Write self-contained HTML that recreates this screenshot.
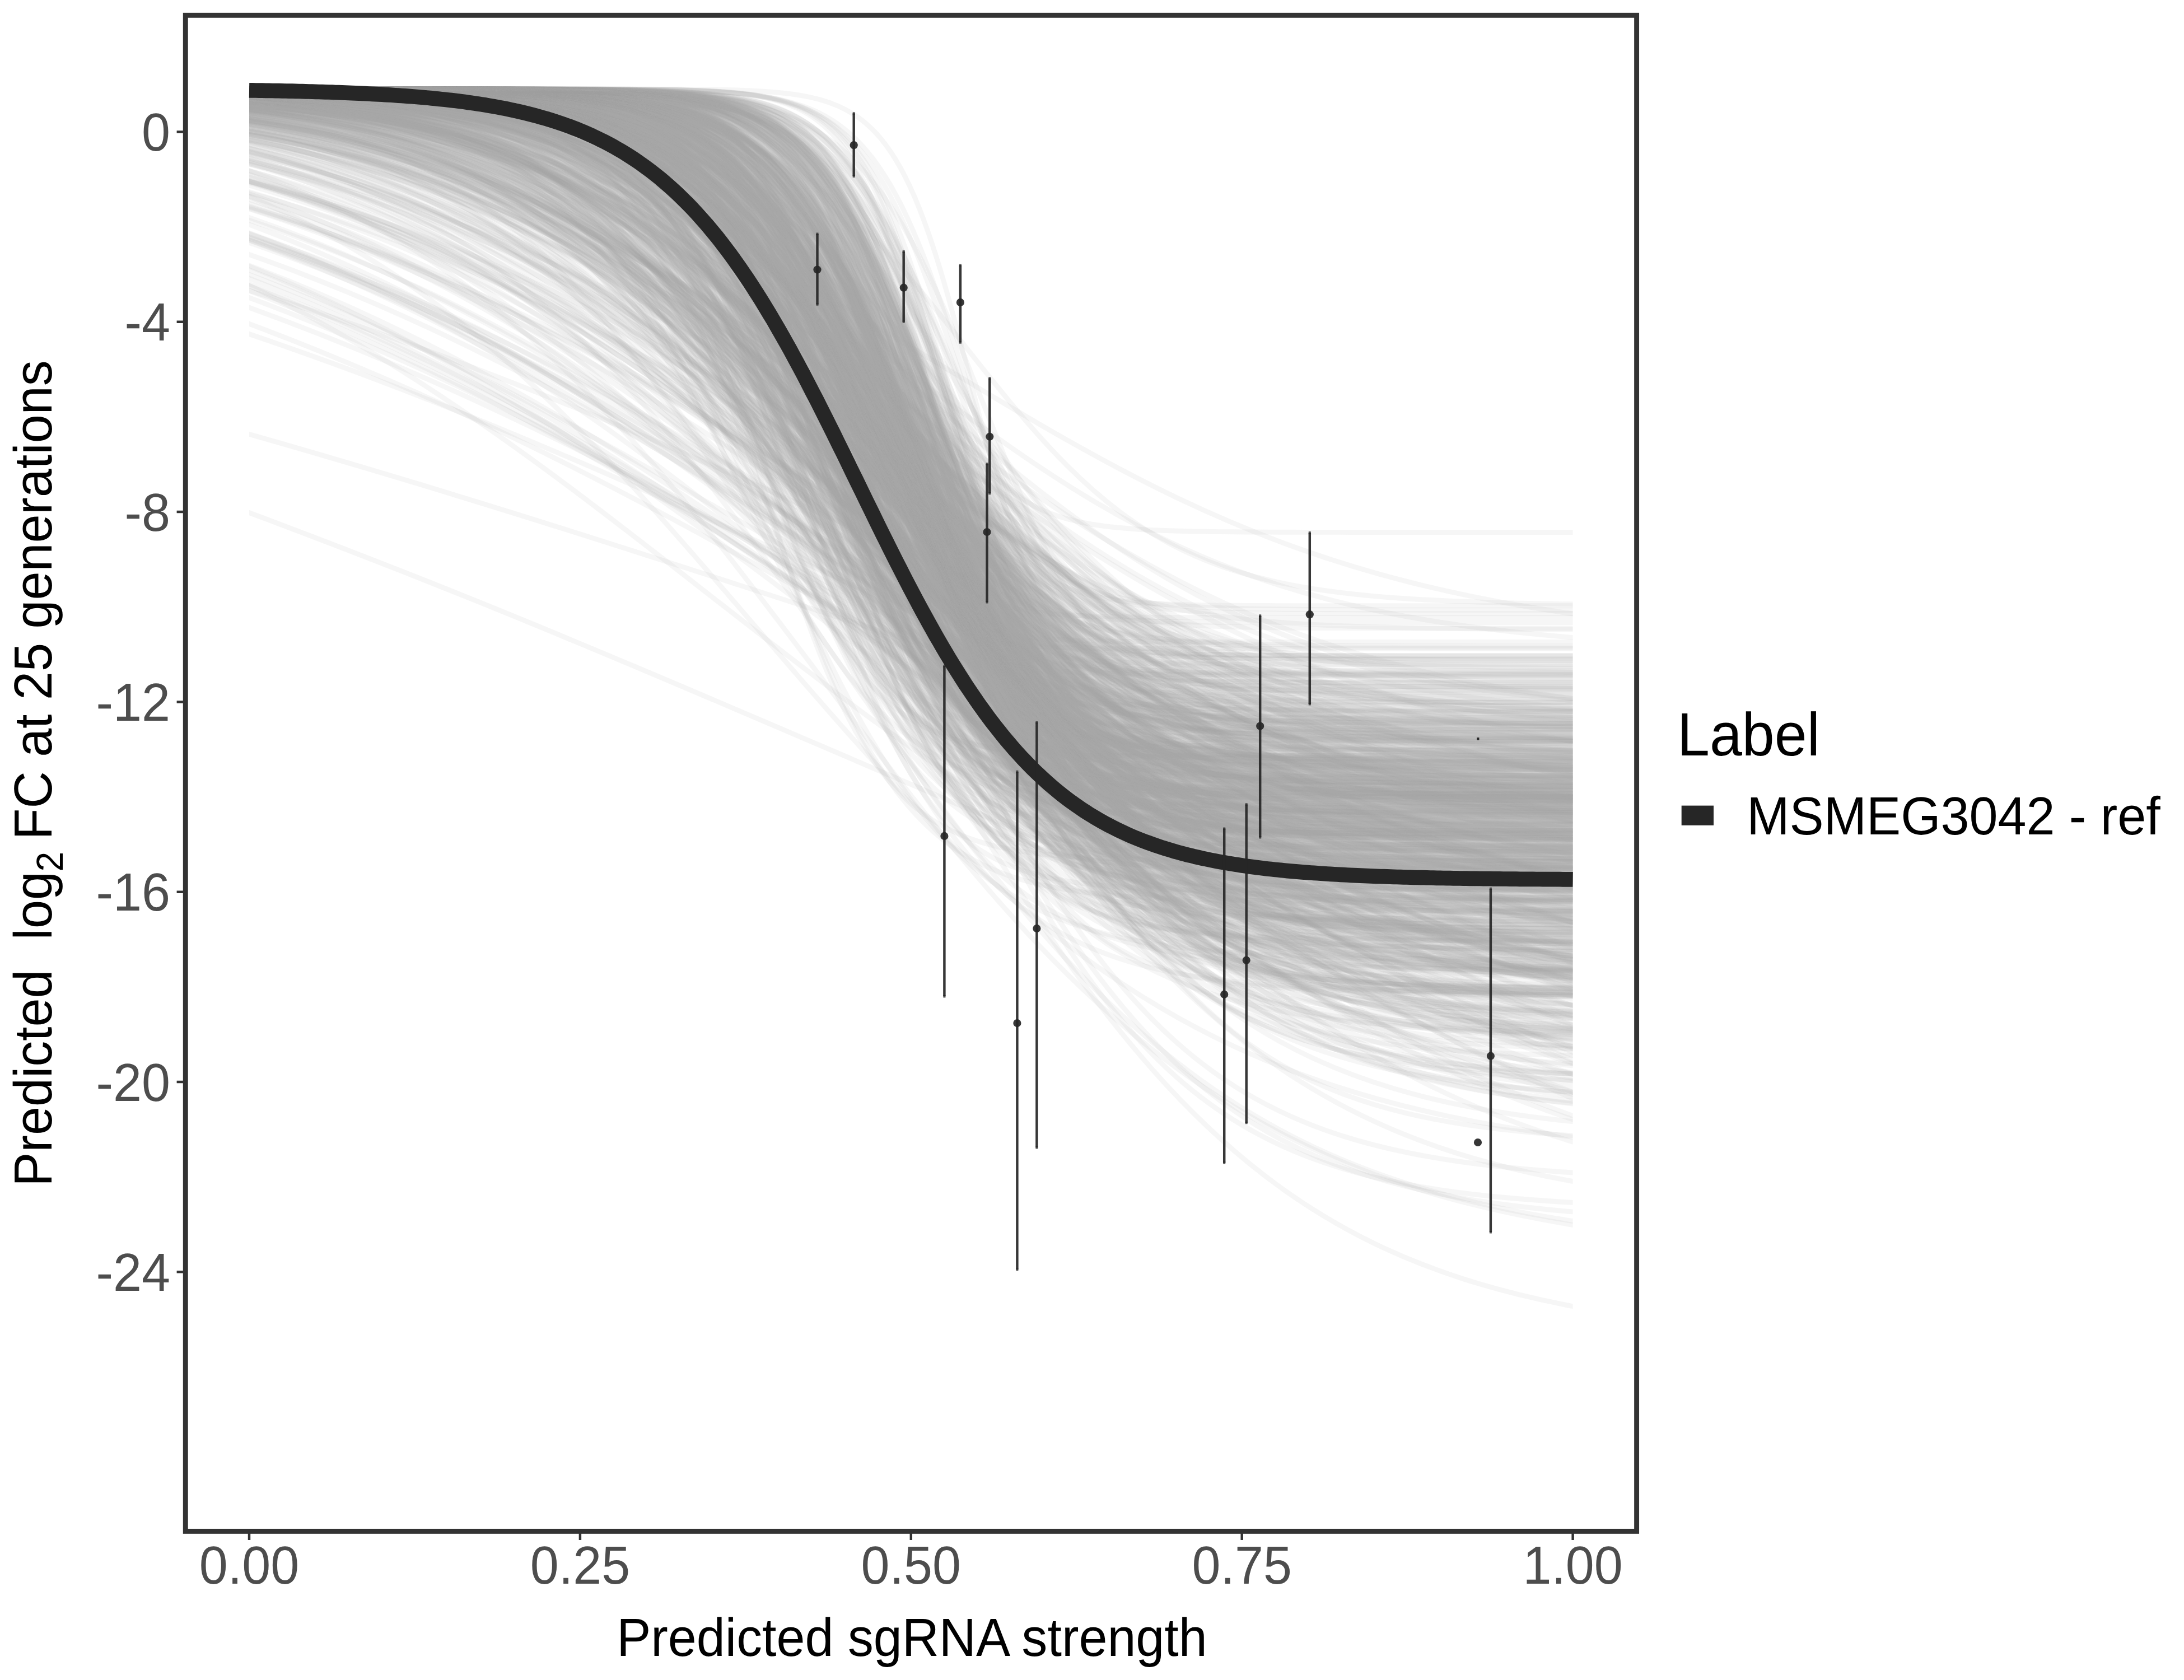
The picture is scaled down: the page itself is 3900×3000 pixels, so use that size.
<!DOCTYPE html>
<html><head><meta charset="utf-8"><title>plot</title>
<style>
html,body{margin:0;padding:0;background:#fff;}
body{width:3900px;height:3000px;overflow:hidden;}
svg{display:block;position:absolute;left:0;top:0;}
text{font-family:"Liberation Sans",sans-serif;text-rendering:geometricPrecision;}
</style></head><body>
<svg width="3900" height="3000" viewBox="0 0 3900 3000">
<defs>
<path id="s" d="M-7000 0.00C-5200.0 0.00 -3400.0 -0.02 -1600 0.00C-1583.3 0.00 -1566.7 0.00 -1550 0.00C-1533.3 0.00 -1516.7 0.00 -1500 0.00C-1483.3 0.00 -1466.7 0.00 -1450 0.01C-1433.3 0.01 -1416.7 0.01 -1400 0.01C-1383.3 0.01 -1366.7 0.01 -1350 0.01C-1333.3 0.02 -1316.7 0.02 -1300 0.02C-1283.3 0.03 -1266.7 0.03 -1250 0.04C-1233.3 0.04 -1216.7 0.05 -1200 0.06C-1183.3 0.07 -1166.7 0.08 -1150 0.10C-1133.3 0.12 -1116.7 0.14 -1100 0.17C-1083.3 0.19 -1066.7 0.23 -1050 0.28C-1033.3 0.32 -1016.7 0.38 -1000 0.45C-983.3 0.53 -966.7 0.62 -950 0.75C-933.3 0.87 -916.7 1.03 -900 1.23C-883.3 1.44 -866.7 1.70 -850 2.03C-833.3 2.37 -816.7 2.79 -800 3.35C-783.3 3.91 -766.7 4.61 -750 5.53C-733.3 6.45 -716.7 7.59 -700 9.11C-683.3 10.63 -666.7 12.51 -650 15.01C-633.3 17.51 -616.7 20.62 -600 24.73C-583.3 28.84 -566.7 33.95 -550 40.70C-533.3 47.46 -516.7 55.85 -500 66.93C-483.3 78.01 -466.7 91.76 -450 109.87C-433.3 127.98 -416.7 150.42 -400 179.86C-383.3 209.30 -366.7 245.70 -350 293.12C-333.3 340.54 -316.7 398.96 -300 474.26C-283.3 549.55 -266.7 641.74 -250 758.58C-233.3 875.42 -216.7 1017.04 -200 1192.03C-183.3 1367.02 -166.7 1575.68 -150 1824.26C-133.3 2072.83 -116.7 2361.73 -100 2689.41C-83.3 3017.10 -66.7 3383.73 -50 3775.41C-33.3 4167.08 -16.7 4583.33 0 5000.00C16.7 5416.67 33.3 5832.92 50 6224.59C66.7 6616.27 83.3 6982.90 100 7310.59C116.7 7638.27 133.3 7927.17 150 8175.74C166.7 8424.32 183.3 8632.98 200 8807.97C216.7 8982.96 233.3 9124.58 250 9241.42C266.7 9358.26 283.3 9450.45 300 9525.74C316.7 9601.04 333.3 9659.46 350 9706.88C366.7 9754.30 383.3 9790.70 400 9820.14C416.7 9849.58 433.3 9872.02 450 9890.13C466.7 9908.24 483.3 9921.99 500 9933.07C516.7 9944.15 533.3 9952.54 550 9959.30C566.7 9966.05 583.3 9971.16 600 9975.27C616.7 9979.38 633.3 9982.49 650 9984.99C666.7 9987.49 683.3 9989.37 700 9990.89C716.7 9992.41 733.3 9993.55 750 9994.47C766.7 9995.39 783.3 9996.09 800 9996.65C816.7 9997.21 833.3 9997.63 850 9997.97C866.7 9998.30 883.3 9998.56 900 9998.77C916.7 9998.97 933.3 9999.13 950 9999.25C966.7 9999.38 983.3 9999.47 1000 9999.55C1016.7 9999.62 1033.3 9999.68 1050 9999.72C1066.7 9999.77 1083.3 9999.81 1100 9999.83C1116.7 9999.86 1133.3 9999.88 1150 9999.90C1166.7 9999.92 1183.3 9999.93 1200 9999.94C1216.7 9999.95 1233.3 9999.96 1250 9999.96C1266.7 9999.97 1283.3 9999.97 1300 9999.98C1316.7 9999.98 1333.3 9999.98 1350 9999.99C1366.7 9999.99 1383.3 9999.99 1400 9999.99C1416.7 9999.99 1433.3 9999.99 1450 9999.99C1466.7 10000.00 1483.3 10000.00 1500 10000.00C1516.7 10000.00 1533.3 10000.00 1550 10000.00C1566.7 10000.00 1583.3 10000.00 1600 10000.00C3400.0 10000.02 5200.0 10000.00 7000 10000.00" vector-effect="non-scaling-stroke"/>
<clipPath id="cx"><rect x="445.0" y="0" width="2363.6" height="3000"/></clipPath>
</defs>
<rect width="3900" height="3000" fill="#fff"/>
<g clip-path="url(#cx)" fill="none" stroke="#A9A9A9" stroke-opacity="0.1" stroke-width="8.9" stroke-linejoin="round">
<use href="#s" transform="matrix(2.1916 0 0 .13558 1599.4 158.8)"/>
<use href="#s" transform="matrix(3.2908 0 0 .16285 1631.5 158.8)"/>
<use href="#s" transform="matrix(.9444 0 0 .10121 1580.1 158.8)"/>
<use href="#s" transform="matrix(1.1088 0 0 .1297 1611.8 158.8)"/>
<use href="#s" transform="matrix(1.4808 0 0 .1183 1653.6 158.8)"/>
<use href="#s" transform="matrix(2.1542 0 0 .11124 1661.6 158.8)"/>
<use href="#s" transform="matrix(2.297 0 0 .12916 1528.8 158.8)"/>
<use href="#s" transform="matrix(.861 0 0 .11903 1632.5 158.8)"/>
<use href="#s" transform="matrix(1.8241 0 0 .13219 1569.8 158.8)"/>
<use href="#s" transform="matrix(5.4432 0 0 .19132 1601 158.8)"/>
<use href="#s" transform="matrix(1.8841 0 0 .13663 1658.3 158.8)"/>
<use href="#s" transform="matrix(1.591 0 0 .14199 1642.3 158.8)"/>
<use href="#s" transform="matrix(1.7178 0 0 .14736 1617.7 158.8)"/>
<use href="#s" transform="matrix(.8339 0 0 .11796 1605 158.8)"/>
<use href="#s" transform="matrix(2.0273 0 0 .14678 1492.9 158.8)"/>
<use href="#s" transform="matrix(4.2393 0 0 .14687 1501.5 158.8)"/>
<use href="#s" transform="matrix(1.09 0 0 .13218 1568.2 158.8)"/>
<use href="#s" transform="matrix(2.4159 0 0 .17198 1576.4 158.8)"/>
<use href="#s" transform="matrix(1.0684 0 0 .11328 1667.1 158.8)"/>
<use href="#s" transform="matrix(2.5743 0 0 .14263 1670.2 158.8)"/>
<use href="#s" transform="matrix(2.4936 0 0 .12469 1709.5 158.8)"/>
<use href="#s" transform="matrix(1.2852 0 0 .1451 1362.9 158.8)"/>
<use href="#s" transform="matrix(2.9295 0 0 .11517 1445.9 158.8)"/>
<use href="#s" transform="matrix(2.4698 0 0 .14222 1420.9 158.8)"/>
<use href="#s" transform="matrix(3.1133 0 0 .13583 1531.2 158.8)"/>
<use href="#s" transform="matrix(.9308 0 0 .11984 1630.5 158.8)"/>
<use href="#s" transform="matrix(1.2691 0 0 .12603 1631.4 158.8)"/>
<use href="#s" transform="matrix(3.4928 0 0 .16337 1605.8 158.8)"/>
<use href="#s" transform="matrix(1.2567 0 0 .13096 1549.8 158.8)"/>
<use href="#s" transform="matrix(1.1826 0 0 .14435 1562.2 158.8)"/>
<use href="#s" transform="matrix(3.21 0 0 .14611 1399.2 158.8)"/>
<use href="#s" transform="matrix(3.7819 0 0 .16243 1654.7 158.8)"/>
<use href="#s" transform="matrix(1.3589 0 0 .13208 1551.8 158.8)"/>
<use href="#s" transform="matrix(1.4103 0 0 .13249 1424 158.8)"/>
<use href="#s" transform="matrix(2.7381 0 0 .12704 1462.3 158.8)"/>
<use href="#s" transform="matrix(2.6407 0 0 .14625 1497.2 158.8)"/>
<use href="#s" transform="matrix(1.9436 0 0 .15129 1512.4 158.8)"/>
<use href="#s" transform="matrix(1.3791 0 0 .13985 1375.2 158.8)"/>
<use href="#s" transform="matrix(3.6705 0 0 .13297 1587.1 158.8)"/>
<use href="#s" transform="matrix(1.3141 0 0 .13359 1676.4 158.8)"/>
<use href="#s" transform="matrix(1.1863 0 0 .12384 1629.9 158.8)"/>
<use href="#s" transform="matrix(1.078 0 0 .13931 1473.8 158.8)"/>
<use href="#s" transform="matrix(5.9778 0 0 .14879 1513.8 158.8)"/>
<use href="#s" transform="matrix(2.3539 0 0 .15098 1488.7 158.8)"/>
<use href="#s" transform="matrix(2.0296 0 0 .13796 1636.9 158.8)"/>
<use href="#s" transform="matrix(1.2937 0 0 .14495 1678.5 158.8)"/>
<use href="#s" transform="matrix(3.1873 0 0 .13604 1622.6 158.8)"/>
<use href="#s" transform="matrix(1.5514 0 0 .11159 1544.7 158.8)"/>
<use href="#s" transform="matrix(.9101 0 0 .10121 1581.1 158.8)"/>
<use href="#s" transform="matrix(.9428 0 0 .10903 1678.2 158.8)"/>
<use href="#s" transform="matrix(1.3641 0 0 .13392 1568.9 158.8)"/>
<use href="#s" transform="matrix(4.2773 0 0 .15875 1647.8 158.8)"/>
<use href="#s" transform="matrix(1.07 0 0 .13786 1356.6 158.8)"/>
<use href="#s" transform="matrix(2.1109 0 0 .12757 1503.5 158.8)"/>
<use href="#s" transform="matrix(1.043 0 0 .11388 1661.9 158.8)"/>
<use href="#s" transform="matrix(1.6346 0 0 .15398 1646.6 158.8)"/>
<use href="#s" transform="matrix(3.4189 0 0 .17729 1682.1 158.8)"/>
<use href="#s" transform="matrix(1.1428 0 0 .12193 1622 158.8)"/>
<use href="#s" transform="matrix(7.2769 0 0 .2089 1641.2 158.8)"/>
<use href="#s" transform="matrix(1.3363 0 0 .11976 1590 158.8)"/>
<use href="#s" transform="matrix(1.8274 0 0 .1237 1693.9 158.8)"/>
<use href="#s" transform="matrix(2.6019 0 0 .10382 1298.4 158.8)"/>
<use href="#s" transform="matrix(2.075 0 0 .12571 1648.1 158.8)"/>
<use href="#s" transform="matrix(2.8487 0 0 .13286 1413.8 158.8)"/>
<use href="#s" transform="matrix(1.1889 0 0 .1308 1459.9 158.8)"/>
<use href="#s" transform="matrix(2.4126 0 0 .12999 1647.3 158.8)"/>
<use href="#s" transform="matrix(7.6072 0 0 .21037 1666.8 158.8)"/>
<use href="#s" transform="matrix(1.742 0 0 .13423 1584.8 158.8)"/>
<use href="#s" transform="matrix(1.5977 0 0 .12163 1547.6 158.8)"/>
<use href="#s" transform="matrix(.9569 0 0 .13977 1634.5 158.8)"/>
<use href="#s" transform="matrix(1.1499 0 0 .14118 1649.5 158.8)"/>
<use href="#s" transform="matrix(2.943 0 0 .18457 1632.6 158.8)"/>
<use href="#s" transform="matrix(1.7001 0 0 .10591 1590.6 158.8)"/>
<use href="#s" transform="matrix(.862 0 0 .12806 1556.3 158.8)"/>
<use href="#s" transform="matrix(2.1184 0 0 .16255 1678.5 158.8)"/>
<use href="#s" transform="matrix(5.6001 0 0 .167 1438.4 158.8)"/>
<use href="#s" transform="matrix(1.6294 0 0 .14534 1447 158.8)"/>
<use href="#s" transform="matrix(3.4009 0 0 .11251 1616.7 158.8)"/>
<use href="#s" transform="matrix(1.3542 0 0 .14487 1590.7 158.8)"/>
<use href="#s" transform="matrix(1.2456 0 0 .12608 1399.9 158.8)"/>
<use href="#s" transform="matrix(2.9803 0 0 .12849 1653.7 158.8)"/>
<use href="#s" transform="matrix(2.084 0 0 .12754 1616.6 158.8)"/>
<use href="#s" transform="matrix(8.5898 0 0 .19169 1616.4 158.8)"/>
<use href="#s" transform="matrix(1.2884 0 0 .14856 1513.5 158.8)"/>
<use href="#s" transform="matrix(1.4031 0 0 .1295 1519.4 158.8)"/>
<use href="#s" transform="matrix(1.8041 0 0 .15658 1645.6 158.8)"/>
<use href="#s" transform="matrix(1.244 0 0 .13963 1615.4 158.8)"/>
<use href="#s" transform="matrix(1.5831 0 0 .11661 1530.2 158.8)"/>
<use href="#s" transform="matrix(1.6051 0 0 .10982 1686.6 158.8)"/>
<use href="#s" transform="matrix(2.5514 0 0 .14744 1427 158.8)"/>
<use href="#s" transform="matrix(1.5085 0 0 .138 1541.8 158.8)"/>
<use href="#s" transform="matrix(4.2578 0 0 .17375 1572.2 158.8)"/>
<use href="#s" transform="matrix(1.7722 0 0 .12695 1404.6 158.8)"/>
<use href="#s" transform="matrix(1.7018 0 0 .1463 1658.1 158.8)"/>
<use href="#s" transform="matrix(1.3032 0 0 .12491 1670.5 158.8)"/>
<use href="#s" transform="matrix(2.6036 0 0 .14445 1532.2 158.8)"/>
<use href="#s" transform="matrix(3.9479 0 0 .15296 1405.8 158.8)"/>
<use href="#s" transform="matrix(1.9056 0 0 .122 1663.1 158.8)"/>
<use href="#s" transform="matrix(1.2114 0 0 .12749 1623 158.8)"/>
<use href="#s" transform="matrix(1.1915 0 0 .13709 1651.6 158.8)"/>
<use href="#s" transform="matrix(1.06 0 0 .1258 1507.7 158.8)"/>
<use href="#s" transform="matrix(4.3239 0 0 .2022 1691 158.8)"/>
<use href="#s" transform="matrix(.8113 0 0 .09876 1448.8 158.8)"/>
<use href="#s" transform="matrix(1.6858 0 0 .14753 1604.2 158.8)"/>
<use href="#s" transform="matrix(1.1838 0 0 .13943 1569.5 158.8)"/>
<use href="#s" transform="matrix(1.652 0 0 .10218 1595 158.8)"/>
<use href="#s" transform="matrix(1.3262 0 0 .14291 1566.5 158.8)"/>
<use href="#s" transform="matrix(1.2332 0 0 .12524 1503.7 158.8)"/>
<use href="#s" transform="matrix(1.3512 0 0 .11858 1633.4 158.8)"/>
<use href="#s" transform="matrix(1.0355 0 0 .14541 1696.2 158.8)"/>
<use href="#s" transform="matrix(1.1426 0 0 .14256 1691 158.8)"/>
<use href="#s" transform="matrix(5.2737 0 0 .16565 1499.9 158.8)"/>
<use href="#s" transform="matrix(1.8357 0 0 .15003 1467.8 158.8)"/>
<use href="#s" transform="matrix(1.0747 0 0 .12103 1683.8 158.8)"/>
<use href="#s" transform="matrix(1.1073 0 0 .1291 1639 158.8)"/>
<use href="#s" transform="matrix(3.2683 0 0 .13217 1602.4 158.8)"/>
<use href="#s" transform="matrix(1.8227 0 0 .15449 1481.8 158.8)"/>
<use href="#s" transform="matrix(1.8707 0 0 .15298 1646.1 158.8)"/>
<use href="#s" transform="matrix(2.8599 0 0 .14313 1594.2 158.8)"/>
<use href="#s" transform="matrix(2.0776 0 0 .16946 1670.7 158.8)"/>
<use href="#s" transform="matrix(2.7562 0 0 .15226 1467 158.8)"/>
<use href="#s" transform="matrix(2.027 0 0 .15313 1731.2 158.8)"/>
<use href="#s" transform="matrix(2.557 0 0 .12525 1650 158.8)"/>
<use href="#s" transform="matrix(1.4636 0 0 .13891 1367.9 158.8)"/>
<use href="#s" transform="matrix(1.2809 0 0 .12986 1658.5 158.8)"/>
<use href="#s" transform="matrix(1.2444 0 0 .10471 1408.7 158.8)"/>
<use href="#s" transform="matrix(3.262 0 0 .14853 1528.8 158.8)"/>
<use href="#s" transform="matrix(2.046 0 0 .15587 1599.8 158.8)"/>
<use href="#s" transform="matrix(1.8545 0 0 .15273 1644.6 158.8)"/>
<use href="#s" transform="matrix(2.4299 0 0 .17096 1680.9 158.8)"/>
<use href="#s" transform="matrix(2.4564 0 0 .15693 1644.2 158.8)"/>
<use href="#s" transform="matrix(1.1671 0 0 .13124 1620.5 158.8)"/>
<use href="#s" transform="matrix(2.1173 0 0 .14175 1408.1 158.8)"/>
<use href="#s" transform="matrix(1.3061 0 0 .12445 1627.8 158.8)"/>
<use href="#s" transform="matrix(.9343 0 0 .12387 1685.2 158.8)"/>
<use href="#s" transform="matrix(2.4165 0 0 .12719 1461.1 158.8)"/>
<use href="#s" transform="matrix(1.2052 0 0 .11817 1672.7 158.8)"/>
<use href="#s" transform="matrix(1.3675 0 0 .13129 1421.8 158.8)"/>
<use href="#s" transform="matrix(4.2548 0 0 .17866 1453.1 158.8)"/>
<use href="#s" transform="matrix(6.7887 0 0 .20213 1746.2 158.8)"/>
<use href="#s" transform="matrix(2.9305 0 0 .13493 1448.2 158.8)"/>
<use href="#s" transform="matrix(5.204 0 0 .13537 1615.2 158.8)"/>
<use href="#s" transform="matrix(1.2575 0 0 .12041 1504.1 158.8)"/>
<use href="#s" transform="matrix(1.9285 0 0 .14759 1567.2 158.8)"/>
<use href="#s" transform="matrix(2.1501 0 0 .1704 1699.4 158.8)"/>
<use href="#s" transform="matrix(.9422 0 0 .12956 1615.3 158.8)"/>
<use href="#s" transform="matrix(1.1393 0 0 .11625 1332.1 158.8)"/>
<use href="#s" transform="matrix(1.4548 0 0 .13432 1600.8 158.8)"/>
<use href="#s" transform="matrix(1.4695 0 0 .13963 1631.4 158.8)"/>
<use href="#s" transform="matrix(2.175 0 0 .1363 1451.7 158.8)"/>
<use href="#s" transform="matrix(3.4693 0 0 .12053 1643.4 158.8)"/>
<use href="#s" transform="matrix(2.2937 0 0 .12715 1650.6 158.8)"/>
<use href="#s" transform="matrix(1.3949 0 0 .13053 1498.4 158.8)"/>
<use href="#s" transform="matrix(1.0568 0 0 .10671 1649.2 158.8)"/>
<use href="#s" transform="matrix(1.821 0 0 .14784 1465.7 158.8)"/>
<use href="#s" transform="matrix(2.0123 0 0 .12461 1480 158.8)"/>
<use href="#s" transform="matrix(2.0722 0 0 .15736 1665.5 158.8)"/>
<use href="#s" transform="matrix(2.8757 0 0 .16405 1501.6 158.8)"/>
<use href="#s" transform="matrix(1.363 0 0 .1184 1669.2 158.8)"/>
<use href="#s" transform="matrix(4.8844 0 0 .16847 1643 158.8)"/>
<use href="#s" transform="matrix(5.4953 0 0 .20237 1685.8 158.8)"/>
<use href="#s" transform="matrix(1.1064 0 0 .11112 1537.2 158.8)"/>
<use href="#s" transform="matrix(.7517 0 0 .10722 1693.4 158.8)"/>
<use href="#s" transform="matrix(1.385 0 0 .12886 1629.9 158.8)"/>
<use href="#s" transform="matrix(1.1458 0 0 .12316 1547.4 158.8)"/>
<use href="#s" transform="matrix(.6767 0 0 .10553 1734.5 158.8)"/>
<use href="#s" transform="matrix(1.5351 0 0 .13924 1585.9 158.8)"/>
<use href="#s" transform="matrix(2.1428 0 0 .14392 1658 158.8)"/>
<use href="#s" transform="matrix(5.7922 0 0 .15571 1508.2 158.8)"/>
<use href="#s" transform="matrix(1.974 0 0 .13628 1605.8 158.8)"/>
<use href="#s" transform="matrix(1.2098 0 0 .13685 1558.1 158.8)"/>
<use href="#s" transform="matrix(3.0888 0 0 .13698 1550.9 158.8)"/>
<use href="#s" transform="matrix(1.6104 0 0 .12082 1669.9 158.8)"/>
<use href="#s" transform="matrix(1.4631 0 0 .12225 1696 158.8)"/>
<use href="#s" transform="matrix(2.0038 0 0 .15758 1429.7 158.8)"/>
<use href="#s" transform="matrix(3.2746 0 0 .13875 1466.9 158.8)"/>
<use href="#s" transform="matrix(1.1086 0 0 .12395 1648 158.8)"/>
<use href="#s" transform="matrix(2.4669 0 0 .17824 1587.3 158.8)"/>
<use href="#s" transform="matrix(4.4112 0 0 .16963 1552.3 158.8)"/>
<use href="#s" transform="matrix(9.1937 0 0 .16597 1625 158.8)"/>
<use href="#s" transform="matrix(1.403 0 0 .13786 1563 158.8)"/>
<use href="#s" transform="matrix(1.7599 0 0 .14692 1487.9 158.8)"/>
<use href="#s" transform="matrix(1.3702 0 0 .12711 1601.2 158.8)"/>
<use href="#s" transform="matrix(7.0559 0 0 .18456 1613.9 158.8)"/>
<use href="#s" transform="matrix(2.5045 0 0 .12972 1611.5 158.8)"/>
<use href="#s" transform="matrix(1.3024 0 0 .10865 1647.5 158.8)"/>
<use href="#s" transform="matrix(1.3682 0 0 .13004 1635.2 158.8)"/>
<use href="#s" transform="matrix(1.3395 0 0 .11873 1462 158.8)"/>
<use href="#s" transform="matrix(1.1452 0 0 .1285 1633.6 158.8)"/>
<use href="#s" transform="matrix(3.1071 0 0 .13009 1614.9 158.8)"/>
<use href="#s" transform="matrix(3.1889 0 0 .12771 1583.1 158.8)"/>
<use href="#s" transform="matrix(2.2336 0 0 .15762 1471.3 158.8)"/>
<use href="#s" transform="matrix(1.1412 0 0 .1322 1599.6 158.8)"/>
<use href="#s" transform="matrix(3.1618 0 0 .12274 1628.2 158.8)"/>
<use href="#s" transform="matrix(3.37 0 0 .12112 1493.6 158.8)"/>
<use href="#s" transform="matrix(1.0108 0 0 .13125 1578.7 158.8)"/>
<use href="#s" transform="matrix(4.2597 0 0 .17865 1650.2 158.8)"/>
<use href="#s" transform="matrix(1.684 0 0 .14298 1635.9 158.8)"/>
<use href="#s" transform="matrix(1.2766 0 0 .14304 1628 158.8)"/>
<use href="#s" transform="matrix(3.1904 0 0 .13787 1517.7 158.8)"/>
<use href="#s" transform="matrix(1.4741 0 0 .13331 1540.4 158.8)"/>
<use href="#s" transform="matrix(1.2507 0 0 .12768 1630.4 158.8)"/>
<use href="#s" transform="matrix(1.914 0 0 .1419 1613.9 158.8)"/>
<use href="#s" transform="matrix(1.7293 0 0 .12652 1282.8 158.8)"/>
<use href="#s" transform="matrix(2.4976 0 0 .13632 1512.8 158.8)"/>
<use href="#s" transform="matrix(2.3104 0 0 .14342 1638.6 158.8)"/>
<use href="#s" transform="matrix(1.3311 0 0 .14077 1607.3 158.8)"/>
<use href="#s" transform="matrix(5.8076 0 0 .14274 1549.1 158.8)"/>
<use href="#s" transform="matrix(1.5857 0 0 .14326 1558.4 158.8)"/>
<use href="#s" transform="matrix(1.6326 0 0 .13695 1601.3 158.8)"/>
<use href="#s" transform="matrix(1.1273 0 0 .11314 1647 158.8)"/>
<use href="#s" transform="matrix(2.8562 0 0 .18014 1645.9 158.8)"/>
<use href="#s" transform="matrix(1.8134 0 0 .14391 1494.7 158.8)"/>
<use href="#s" transform="matrix(.9218 0 0 .10748 1648.1 158.8)"/>
<use href="#s" transform="matrix(4.5296 0 0 .12567 1653.6 158.8)"/>
<use href="#s" transform="matrix(1.4169 0 0 .14083 1626.9 158.8)"/>
<use href="#s" transform="matrix(1.0083 0 0 .11519 1669.8 158.8)"/>
<use href="#s" transform="matrix(1.2725 0 0 .12219 1578.6 158.8)"/>
<use href="#s" transform="matrix(1.1371 0 0 .10824 1723.5 158.8)"/>
<use href="#s" transform="matrix(1.4857 0 0 .14687 1566.2 158.8)"/>
<use href="#s" transform="matrix(.8697 0 0 .12576 1624.7 158.8)"/>
<use href="#s" transform="matrix(1.2483 0 0 .14106 1529 158.8)"/>
<use href="#s" transform="matrix(5.1446 0 0 .14977 1638.9 158.8)"/>
<use href="#s" transform="matrix(1.1465 0 0 .14095 1608.7 158.8)"/>
<use href="#s" transform="matrix(1.3917 0 0 .12961 1611.7 158.8)"/>
<use href="#s" transform="matrix(2.4584 0 0 .13949 1292.8 158.8)"/>
<use href="#s" transform="matrix(1.9667 0 0 .15783 1611.8 158.8)"/>
<use href="#s" transform="matrix(.7762 0 0 .10475 1599.1 158.8)"/>
<use href="#s" transform="matrix(3.6272 0 0 .11627 1525.5 158.8)"/>
<use href="#s" transform="matrix(1.2985 0 0 .13506 1581.1 158.8)"/>
<use href="#s" transform="matrix(3.5801 0 0 .17206 1622 158.8)"/>
<use href="#s" transform="matrix(1.3613 0 0 .12818 1618.9 158.8)"/>
<use href="#s" transform="matrix(1.9622 0 0 .13892 1632.6 158.8)"/>
<use href="#s" transform="matrix(2.4539 0 0 .1806 1631.7 158.8)"/>
<use href="#s" transform="matrix(1.3376 0 0 .12655 1705.5 158.8)"/>
<use href="#s" transform="matrix(1.8847 0 0 .1168 1636 158.8)"/>
<use href="#s" transform="matrix(2.4398 0 0 .12764 1518.7 158.8)"/>
<use href="#s" transform="matrix(2.8938 0 0 .1558 1366.1 158.8)"/>
<use href="#s" transform="matrix(1.9617 0 0 .16181 1639.5 158.8)"/>
<use href="#s" transform="matrix(3.637 0 0 .1623 1633.1 158.8)"/>
<use href="#s" transform="matrix(1.6012 0 0 .15069 1715.7 158.8)"/>
<use href="#s" transform="matrix(1.1164 0 0 .13135 1530.2 158.8)"/>
<use href="#s" transform="matrix(2.6774 0 0 .17943 1627.6 158.8)"/>
<use href="#s" transform="matrix(5.5664 0 0 .15187 1405.6 158.8)"/>
<use href="#s" transform="matrix(1.3837 0 0 .13409 1623.5 158.8)"/>
<use href="#s" transform="matrix(1.6076 0 0 .14695 1678.7 158.8)"/>
<use href="#s" transform="matrix(2.0484 0 0 .17042 1714.4 158.8)"/>
<use href="#s" transform="matrix(1.8226 0 0 .15214 1672.6 158.8)"/>
<use href="#s" transform="matrix(1.4393 0 0 .15264 1671.5 158.8)"/>
<use href="#s" transform="matrix(1.2736 0 0 .14506 1632.3 158.8)"/>
<use href="#s" transform="matrix(1.2925 0 0 .12458 1452.2 158.8)"/>
<use href="#s" transform="matrix(1.2995 0 0 .1361 1568.5 158.8)"/>
<use href="#s" transform="matrix(1.2386 0 0 .14975 1599.9 158.8)"/>
<use href="#s" transform="matrix(.9893 0 0 .11435 1644.2 158.8)"/>
<use href="#s" transform="matrix(2.8498 0 0 .18739 1634.1 158.8)"/>
<use href="#s" transform="matrix(.7702 0 0 .11703 1578.3 158.8)"/>
<use href="#s" transform="matrix(3.9372 0 0 .11438 1633.9 158.8)"/>
<use href="#s" transform="matrix(.8422 0 0 .1146 1661.6 158.8)"/>
<use href="#s" transform="matrix(1.7204 0 0 .13142 1535 158.8)"/>
<use href="#s" transform="matrix(6.009 0 0 .15568 1383.6 158.8)"/>
<use href="#s" transform="matrix(1.1374 0 0 .12849 1603 158.8)"/>
<use href="#s" transform="matrix(1.9846 0 0 .1765 1684.8 158.8)"/>
<use href="#s" transform="matrix(1.3923 0 0 .12763 1671.5 158.8)"/>
<use href="#s" transform="matrix(2.009 0 0 .16371 1663.7 158.8)"/>
<use href="#s" transform="matrix(1.5487 0 0 .15336 1498.3 158.8)"/>
<use href="#s" transform="matrix(2.0463 0 0 .13807 1462.4 158.8)"/>
<use href="#s" transform="matrix(1.0954 0 0 .11644 1655.5 158.8)"/>
<use href="#s" transform="matrix(.7374 0 0 .09441 1513.9 158.8)"/>
<use href="#s" transform="matrix(2.2556 0 0 .13323 1627.9 158.8)"/>
<use href="#s" transform="matrix(1.9123 0 0 .14891 1603.3 158.8)"/>
<use href="#s" transform="matrix(3.3352 0 0 .15111 1664.3 158.8)"/>
<use href="#s" transform="matrix(3.1547 0 0 .14234 1626.7 158.8)"/>
<use href="#s" transform="matrix(1.4014 0 0 .12456 1640.4 158.8)"/>
<use href="#s" transform="matrix(1.2041 0 0 .12411 1660.6 158.8)"/>
<use href="#s" transform="matrix(.9329 0 0 .10284 1497.9 158.8)"/>
<use href="#s" transform="matrix(1.8707 0 0 .15943 1596.6 158.8)"/>
<use href="#s" transform="matrix(1.6157 0 0 .15045 1637.9 158.8)"/>
<use href="#s" transform="matrix(1.7431 0 0 .1555 1367.2 158.8)"/>
<use href="#s" transform="matrix(1.6739 0 0 .11638 1616.5 158.8)"/>
<use href="#s" transform="matrix(2.0608 0 0 .14183 1588.7 158.8)"/>
<use href="#s" transform="matrix(4.0038 0 0 .14811 1528.1 158.8)"/>
<use href="#s" transform="matrix(1.0646 0 0 .13301 1500.1 158.8)"/>
<use href="#s" transform="matrix(1.9376 0 0 .16566 1693.9 158.8)"/>
<use href="#s" transform="matrix(2.3785 0 0 .15333 1632.7 158.8)"/>
<use href="#s" transform="matrix(1.4589 0 0 .12898 1624.9 158.8)"/>
<use href="#s" transform="matrix(1.322 0 0 .13739 1657.1 158.8)"/>
<use href="#s" transform="matrix(1.773 0 0 .10535 1632.2 158.8)"/>
<use href="#s" transform="matrix(2.2223 0 0 .14152 1604.9 158.8)"/>
<use href="#s" transform="matrix(2.6457 0 0 .13519 1555.1 158.8)"/>
<use href="#s" transform="matrix(1.3027 0 0 .12195 1640.3 158.8)"/>
<use href="#s" transform="matrix(1.0779 0 0 .12926 1412.6 158.8)"/>
<use href="#s" transform="matrix(1.9474 0 0 .12895 1645.9 158.8)"/>
<use href="#s" transform="matrix(1.718 0 0 .16201 1651 158.8)"/>
<use href="#s" transform="matrix(1.7719 0 0 .15087 1640.4 158.8)"/>
<use href="#s" transform="matrix(2.2487 0 0 .15055 1670.7 158.8)"/>
<use href="#s" transform="matrix(1.3022 0 0 .13599 1568.9 158.8)"/>
<use href="#s" transform="matrix(3.2728 0 0 .13745 1602.3 158.8)"/>
<use href="#s" transform="matrix(1.2306 0 0 .12151 1621 158.8)"/>
<use href="#s" transform="matrix(1.5043 0 0 .1356 1630 158.8)"/>
<use href="#s" transform="matrix(.8983 0 0 .1301 1658.5 158.8)"/>
<use href="#s" transform="matrix(1.2104 0 0 .09949 1551.7 158.8)"/>
<use href="#s" transform="matrix(1.5292 0 0 .13895 1474.4 158.8)"/>
<use href="#s" transform="matrix(3.5897 0 0 .1409 1611.1 158.8)"/>
<use href="#s" transform="matrix(4.1692 0 0 .16808 1611.8 158.8)"/>
<use href="#s" transform="matrix(1.0058 0 0 .11493 1674.3 158.8)"/>
<use href="#s" transform="matrix(.9578 0 0 .1271 1710.5 158.8)"/>
<use href="#s" transform="matrix(1.0562 0 0 .12737 1638.7 158.8)"/>
<use href="#s" transform="matrix(3.9101 0 0 .13762 1631.3 158.8)"/>
<use href="#s" transform="matrix(1.9954 0 0 .10738 1680.6 158.8)"/>
<use href="#s" transform="matrix(2.7561 0 0 .11817 1655.6 158.8)"/>
<use href="#s" transform="matrix(1.394 0 0 .12419 1614.5 158.8)"/>
<use href="#s" transform="matrix(1.0517 0 0 .1245 1650.2 158.8)"/>
<use href="#s" transform="matrix(1.2045 0 0 .1311 1513.6 158.8)"/>
<use href="#s" transform="matrix(1.5607 0 0 .13771 1633.9 158.8)"/>
<use href="#s" transform="matrix(1.4176 0 0 .12975 1665.2 158.8)"/>
<use href="#s" transform="matrix(6.9685 0 0 .16343 1399 158.8)"/>
<use href="#s" transform="matrix(14.7366 0 0 .19232 1552.3 158.8)"/>
<use href="#s" transform="matrix(2.1636 0 0 .14208 1439.5 158.8)"/>
<use href="#s" transform="matrix(7.5772 0 0 .19586 1574.2 158.8)"/>
<use href="#s" transform="matrix(1.954 0 0 .14379 1621.8 158.8)"/>
<use href="#s" transform="matrix(3.9434 0 0 .15121 1444.4 158.8)"/>
<use href="#s" transform="matrix(2.0905 0 0 .16632 1607.1 158.8)"/>
<use href="#s" transform="matrix(3.4581 0 0 .15962 1600.9 158.8)"/>
<use href="#s" transform="matrix(2.8861 0 0 .13056 1607.5 158.8)"/>
<use href="#s" transform="matrix(1.6208 0 0 .12634 1626.7 158.8)"/>
<use href="#s" transform="matrix(1.1412 0 0 .12776 1589.7 158.8)"/>
<use href="#s" transform="matrix(1.9549 0 0 .12657 1471.2 158.8)"/>
<use href="#s" transform="matrix(1.0558 0 0 .12644 1688.9 158.8)"/>
<use href="#s" transform="matrix(6.2178 0 0 .19456 1680.4 158.8)"/>
<use href="#s" transform="matrix(4.1977 0 0 .14864 1637.2 158.8)"/>
<use href="#s" transform="matrix(1.9179 0 0 .12827 1608.6 158.8)"/>
<use href="#s" transform="matrix(1.4872 0 0 .12354 1586.6 158.8)"/>
<use href="#s" transform="matrix(1.2429 0 0 .12644 1637.3 158.8)"/>
<use href="#s" transform="matrix(1.0156 0 0 .09305 1620.5 158.8)"/>
<use href="#s" transform="matrix(1.8276 0 0 .13705 1624.1 158.8)"/>
<use href="#s" transform="matrix(5.0616 0 0 .16029 1541 158.8)"/>
<use href="#s" transform="matrix(.8643 0 0 .11001 1415.4 158.8)"/>
<use href="#s" transform="matrix(1.8124 0 0 .11951 1666.7 158.8)"/>
<use href="#s" transform="matrix(2.2676 0 0 .16481 1713.4 158.8)"/>
<use href="#s" transform="matrix(1.7715 0 0 .14532 1639.8 158.8)"/>
<use href="#s" transform="matrix(1.0057 0 0 .13237 1631 158.8)"/>
<use href="#s" transform="matrix(4.2505 0 0 .1305 1543.2 158.8)"/>
<use href="#s" transform="matrix(2.924 0 0 .17442 1754.8 158.8)"/>
<use href="#s" transform="matrix(1.6013 0 0 .15798 1667.8 158.8)"/>
<use href="#s" transform="matrix(13.9761 0 0 .23995 1528.5 158.8)"/>
<use href="#s" transform="matrix(2.5449 0 0 .14252 1572.6 158.8)"/>
<use href="#s" transform="matrix(1.2272 0 0 .10956 1656.7 158.8)"/>
<use href="#s" transform="matrix(2.3963 0 0 .16774 1485.7 158.8)"/>
<use href="#s" transform="matrix(2.836 0 0 .11812 1338 158.8)"/>
<use href="#s" transform="matrix(1.8136 0 0 .15742 1666.5 158.8)"/>
<use href="#s" transform="matrix(3.5279 0 0 .1342 1541.9 158.8)"/>
<use href="#s" transform="matrix(.9658 0 0 .11957 1467.3 158.8)"/>
<use href="#s" transform="matrix(1.604 0 0 .12753 1472 158.8)"/>
<use href="#s" transform="matrix(3.5288 0 0 .13368 1445.7 158.8)"/>
<use href="#s" transform="matrix(1.0843 0 0 .12918 1592.9 158.8)"/>
<use href="#s" transform="matrix(1.2979 0 0 .12509 1614.8 158.8)"/>
<use href="#s" transform="matrix(1.3113 0 0 .13045 1651.7 158.8)"/>
<use href="#s" transform="matrix(1.6638 0 0 .15271 1635.3 158.8)"/>
<use href="#s" transform="matrix(1.9056 0 0 .1301 1482.6 158.8)"/>
<use href="#s" transform="matrix(3.1036 0 0 .15903 1646.7 158.8)"/>
<use href="#s" transform="matrix(1.5481 0 0 .1407 1693.6 158.8)"/>
<use href="#s" transform="matrix(.8517 0 0 .11288 1632.5 158.8)"/>
<use href="#s" transform="matrix(1.4957 0 0 .1388 1522.5 158.8)"/>
<use href="#s" transform="matrix(2.429 0 0 .13922 1456 158.8)"/>
<use href="#s" transform="matrix(2.2606 0 0 .18844 1720.7 158.8)"/>
<use href="#s" transform="matrix(2.6279 0 0 .13609 1390.6 158.8)"/>
<use href="#s" transform="matrix(1.8088 0 0 .12651 1638.3 158.8)"/>
<use href="#s" transform="matrix(2.5672 0 0 .15449 1658.5 158.8)"/>
<use href="#s" transform="matrix(1.8161 0 0 .13931 1608.8 158.8)"/>
<use href="#s" transform="matrix(1.3907 0 0 .13387 1613.8 158.8)"/>
<use href="#s" transform="matrix(1.1384 0 0 .12123 1458.7 158.8)"/>
<use href="#s" transform="matrix(4.9481 0 0 .19316 1548.3 158.8)"/>
<use href="#s" transform="matrix(1.9554 0 0 .1159 1569.5 158.8)"/>
<use href="#s" transform="matrix(1.2232 0 0 .13174 1414.2 158.8)"/>
<use href="#s" transform="matrix(1.6616 0 0 .15335 1483.5 158.8)"/>
<use href="#s" transform="matrix(2.0226 0 0 .11352 1526.3 158.8)"/>
<use href="#s" transform="matrix(1.7779 0 0 .16232 1608 158.8)"/>
<use href="#s" transform="matrix(1.4992 0 0 .12728 1500 158.8)"/>
<use href="#s" transform="matrix(1.0928 0 0 .11654 1583 158.8)"/>
<use href="#s" transform="matrix(2.6023 0 0 .17801 1689.3 158.8)"/>
<use href="#s" transform="matrix(1.4737 0 0 .13737 1627.6 158.8)"/>
<use href="#s" transform="matrix(1.994 0 0 .13594 1333.6 158.8)"/>
<use href="#s" transform="matrix(1.4079 0 0 .13065 1476.2 158.8)"/>
<use href="#s" transform="matrix(2.0148 0 0 .13174 1391.8 158.8)"/>
<use href="#s" transform="matrix(1.6475 0 0 .14225 1611.7 158.8)"/>
<use href="#s" transform="matrix(1.8741 0 0 .13507 1491.6 158.8)"/>
<use href="#s" transform="matrix(2.1506 0 0 .13733 1569.9 158.8)"/>
<use href="#s" transform="matrix(2.1183 0 0 .14867 1651.2 158.8)"/>
<use href="#s" transform="matrix(1.0719 0 0 .11578 1674 158.8)"/>
<use href="#s" transform="matrix(2.0447 0 0 .1585 1595.3 158.8)"/>
<use href="#s" transform="matrix(1.0452 0 0 .10177 1536 158.8)"/>
<use href="#s" transform="matrix(1.6654 0 0 .12469 1636.1 158.8)"/>
<use href="#s" transform="matrix(.8854 0 0 .10202 1684.4 158.8)"/>
<use href="#s" transform="matrix(1.0114 0 0 .12999 1654 158.8)"/>
<use href="#s" transform="matrix(1.1958 0 0 .1201 1629.7 158.8)"/>
<use href="#s" transform="matrix(1.9335 0 0 .15907 1652.9 158.8)"/>
<use href="#s" transform="matrix(1.6191 0 0 .10322 1702 158.8)"/>
<use href="#s" transform="matrix(3.4155 0 0 .17353 1648.5 158.8)"/>
<use href="#s" transform="matrix(1.6653 0 0 .13052 1569.7 158.8)"/>
<use href="#s" transform="matrix(.9368 0 0 .1252 1606.9 158.8)"/>
<use href="#s" transform="matrix(1.1806 0 0 .12841 1483.4 158.8)"/>
<use href="#s" transform="matrix(1.693 0 0 .15373 1539.6 158.8)"/>
<use href="#s" transform="matrix(2.5323 0 0 .16991 1681.6 158.8)"/>
<use href="#s" transform="matrix(2.062 0 0 .15932 1717.1 158.8)"/>
<use href="#s" transform="matrix(1.5387 0 0 .14584 1604.8 158.8)"/>
<use href="#s" transform="matrix(1.493 0 0 .13506 1473.3 158.8)"/>
<use href="#s" transform="matrix(4.2995 0 0 .16588 1668.6 158.8)"/>
<use href="#s" transform="matrix(1.1989 0 0 .11578 1591.4 158.8)"/>
<use href="#s" transform="matrix(1.9221 0 0 .15035 1623.1 158.8)"/>
<use href="#s" transform="matrix(5.7718 0 0 .18059 1266.1 158.8)"/>
<use href="#s" transform="matrix(4.4519 0 0 .13075 1599.8 158.8)"/>
<use href="#s" transform="matrix(1.4993 0 0 .12635 1639 158.8)"/>
<use href="#s" transform="matrix(2.1467 0 0 .14886 1667.6 158.8)"/>
<use href="#s" transform="matrix(1.3953 0 0 .12418 1580.4 158.8)"/>
<use href="#s" transform="matrix(1.3769 0 0 .13028 1649.9 158.8)"/>
<use href="#s" transform="matrix(1.1312 0 0 .1201 1709.8 158.8)"/>
<use href="#s" transform="matrix(1.5854 0 0 .15378 1636 158.8)"/>
<use href="#s" transform="matrix(2.4986 0 0 .11936 1625.4 158.8)"/>
<use href="#s" transform="matrix(1.4769 0 0 .1387 1609.1 158.8)"/>
<use href="#s" transform="matrix(1.4376 0 0 .15099 1637.2 158.8)"/>
<use href="#s" transform="matrix(1.0337 0 0 .12522 1452.2 158.8)"/>
<use href="#s" transform="matrix(1.7402 0 0 .09659 1542.3 158.8)"/>
<use href="#s" transform="matrix(1.3784 0 0 .1323 1615.3 158.8)"/>
<use href="#s" transform="matrix(1.2867 0 0 .12702 1563.5 158.8)"/>
<use href="#s" transform="matrix(2.2918 0 0 .14241 1636.1 158.8)"/>
<use href="#s" transform="matrix(2.7335 0 0 .12315 1624.4 158.8)"/>
<use href="#s" transform="matrix(2.8651 0 0 .16665 1662.1 158.8)"/>
<use href="#s" transform="matrix(1.1433 0 0 .13145 1639.4 158.8)"/>
<use href="#s" transform="matrix(2.0375 0 0 .14046 1611.5 158.8)"/>
<use href="#s" transform="matrix(1.5444 0 0 .12911 1290 158.8)"/>
<use href="#s" transform="matrix(2.3349 0 0 .15179 1474.3 158.8)"/>
<use href="#s" transform="matrix(1.0663 0 0 .12525 1524.3 158.8)"/>
<use href="#s" transform="matrix(1.2941 0 0 .12395 1590.2 158.8)"/>
<use href="#s" transform="matrix(3.9811 0 0 .12445 1537.7 158.8)"/>
<use href="#s" transform="matrix(5.7316 0 0 .14175 1449.5 158.8)"/>
<use href="#s" transform="matrix(1.2205 0 0 .11477 1626.9 158.8)"/>
<use href="#s" transform="matrix(2.4581 0 0 .14491 1430.9 158.8)"/>
<use href="#s" transform="matrix(2.0201 0 0 .12923 1345.5 158.8)"/>
<use href="#s" transform="matrix(.9582 0 0 .12286 1626.9 158.8)"/>
<use href="#s" transform="matrix(1.4597 0 0 .14928 1631.4 158.8)"/>
<use href="#s" transform="matrix(1.8113 0 0 .15071 1503.1 158.8)"/>
<use href="#s" transform="matrix(1.1275 0 0 .12635 1384.3 158.8)"/>
<use href="#s" transform="matrix(.9605 0 0 .1226 1618.9 158.8)"/>
<use href="#s" transform="matrix(1.4625 0 0 .13319 1557 158.8)"/>
<use href="#s" transform="matrix(1.7271 0 0 .12377 1576.1 158.8)"/>
<use href="#s" transform="matrix(3.0158 0 0 .11278 1536.4 158.8)"/>
<use href="#s" transform="matrix(1.926 0 0 .1623 1567.8 158.8)"/>
<use href="#s" transform="matrix(.9863 0 0 .12542 1552.5 158.8)"/>
<use href="#s" transform="matrix(2.4596 0 0 .1234 1459.2 158.8)"/>
<use href="#s" transform="matrix(2.0636 0 0 .13442 1494.4 158.8)"/>
<use href="#s" transform="matrix(2.1503 0 0 .12524 1607.9 158.8)"/>
<use href="#s" transform="matrix(1.8517 0 0 .15782 1709 158.8)"/>
<use href="#s" transform="matrix(1.222 0 0 .10497 1715.2 158.8)"/>
<use href="#s" transform="matrix(.9471 0 0 .11955 1654.7 158.8)"/>
<use href="#s" transform="matrix(5.4261 0 0 .18655 1685.9 158.8)"/>
<use href="#s" transform="matrix(.8853 0 0 .13487 1544.6 158.8)"/>
<use href="#s" transform="matrix(1.207 0 0 .13902 1555.3 158.8)"/>
<use href="#s" transform="matrix(1.6816 0 0 .12654 1626.2 158.8)"/>
<use href="#s" transform="matrix(2.9044 0 0 .14324 1641.7 158.8)"/>
<use href="#s" transform="matrix(4.2702 0 0 .16644 1519 158.8)"/>
<use href="#s" transform="matrix(.8105 0 0 .0937 1700.3 158.8)"/>
<use href="#s" transform="matrix(1.8723 0 0 .15016 1570.2 158.8)"/>
<use href="#s" transform="matrix(1.5437 0 0 .12067 1504.7 158.8)"/>
<use href="#s" transform="matrix(2.6852 0 0 .15787 1434.6 158.8)"/>
<use href="#s" transform="matrix(2.5965 0 0 .16952 1584.6 158.8)"/>
<use href="#s" transform="matrix(1.444 0 0 .12111 1617.3 158.8)"/>
<use href="#s" transform="matrix(1.9353 0 0 .12615 1495 158.8)"/>
<use href="#s" transform="matrix(1.3426 0 0 .1428 1725.5 158.8)"/>
<use href="#s" transform="matrix(1.0133 0 0 .12461 1680.6 158.8)"/>
<use href="#s" transform="matrix(1.5258 0 0 .12716 1649.5 158.8)"/>
<use href="#s" transform="matrix(1.3917 0 0 .13604 1686.6 158.8)"/>
<use href="#s" transform="matrix(2.369 0 0 .14177 1415 158.8)"/>
<use href="#s" transform="matrix(1.1681 0 0 .12517 1619 158.8)"/>
<use href="#s" transform="matrix(4.7656 0 0 .14597 1451.2 158.8)"/>
<use href="#s" transform="matrix(1.3249 0 0 .1281 1585.7 158.8)"/>
<use href="#s" transform="matrix(1.9099 0 0 .15722 1632 158.8)"/>
<use href="#s" transform="matrix(1.6703 0 0 .14166 1509 158.8)"/>
<use href="#s" transform="matrix(2.2472 0 0 .1401 1564.7 158.8)"/>
<use href="#s" transform="matrix(1.4187 0 0 .13266 1651.8 158.8)"/>
<use href="#s" transform="matrix(1.5273 0 0 .13514 1534.7 158.8)"/>
<use href="#s" transform="matrix(.9993 0 0 .1278 1534.4 158.8)"/>
<use href="#s" transform="matrix(1.8236 0 0 .09224 1724.9 158.8)"/>
<use href="#s" transform="matrix(3.4296 0 0 .11341 1556.6 158.8)"/>
<use href="#s" transform="matrix(.9465 0 0 .10448 1572.9 158.8)"/>
<use href="#s" transform="matrix(1.4852 0 0 .13532 1650.7 158.8)"/>
<use href="#s" transform="matrix(2.1053 0 0 .14833 1599.2 158.8)"/>
<use href="#s" transform="matrix(1.7551 0 0 .12928 1577.3 158.8)"/>
<use href="#s" transform="matrix(1.5317 0 0 .15177 1596.9 158.8)"/>
<use href="#s" transform="matrix(2.4439 0 0 .19508 1630.5 158.8)"/>
<use href="#s" transform="matrix(2.2654 0 0 .14402 1552.4 158.8)"/>
<use href="#s" transform="matrix(1.2326 0 0 .14099 1550.5 158.8)"/>
<use href="#s" transform="matrix(3.3825 0 0 .20138 1647.8 158.8)"/>
<use href="#s" transform="matrix(1.8257 0 0 .16071 1534.2 158.8)"/>
<use href="#s" transform="matrix(1.7255 0 0 .14396 1663.6 158.8)"/>
<use href="#s" transform="matrix(1.3542 0 0 .12666 1490.3 158.8)"/>
<use href="#s" transform="matrix(1.1035 0 0 .13275 1507.6 158.8)"/>
<use href="#s" transform="matrix(2.7294 0 0 .14549 1603.9 158.8)"/>
<use href="#s" transform="matrix(1.0116 0 0 .10797 1443.5 158.8)"/>
<use href="#s" transform="matrix(1.806 0 0 .15794 1689.6 158.8)"/>
<use href="#s" transform="matrix(2.3064 0 0 .14051 1425.7 158.8)"/>
<use href="#s" transform="matrix(2.2619 0 0 .12849 1623.1 158.8)"/>
<use href="#s" transform="matrix(3.7137 0 0 .1744 1703.2 158.8)"/>
<use href="#s" transform="matrix(1.9422 0 0 .16878 1616.8 158.8)"/>
<use href="#s" transform="matrix(1.3425 0 0 .12816 1372.5 158.8)"/>
<use href="#s" transform="matrix(1.6529 0 0 .1258 1504.1 158.8)"/>
<use href="#s" transform="matrix(2.0756 0 0 .12345 1646.4 158.8)"/>
<use href="#s" transform="matrix(2.5176 0 0 .18036 1701.3 158.8)"/>
<use href="#s" transform="matrix(1.6167 0 0 .13873 1639.9 158.8)"/>
<use href="#s" transform="matrix(1.2078 0 0 .11701 1679.2 158.8)"/>
<use href="#s" transform="matrix(1.976 0 0 .11218 1592.1 158.8)"/>
<use href="#s" transform="matrix(2.9094 0 0 .16694 1473.2 158.8)"/>
<use href="#s" transform="matrix(2.9064 0 0 .1464 1625 158.8)"/>
<use href="#s" transform="matrix(1.8711 0 0 .16096 1602.8 158.8)"/>
<use href="#s" transform="matrix(1.7615 0 0 .14521 1659.5 158.8)"/>
<use href="#s" transform="matrix(2.8937 0 0 .11389 1581.9 158.8)"/>
<use href="#s" transform="matrix(2.2079 0 0 .169 1483.5 158.8)"/>
<use href="#s" transform="matrix(2.0706 0 0 .14236 1593.8 158.8)"/>
<use href="#s" transform="matrix(.784 0 0 .12015 1636.5 158.8)"/>
<use href="#s" transform="matrix(1.9748 0 0 .14738 1583.5 158.8)"/>
<use href="#s" transform="matrix(1.1608 0 0 .1211 1624.4 158.8)"/>
<use href="#s" transform="matrix(2.6878 0 0 .16208 1722.3 158.8)"/>
<use href="#s" transform="matrix(2.0709 0 0 .14051 1475.9 158.8)"/>
<use href="#s" transform="matrix(1.307 0 0 .1234 1626.6 158.8)"/>
<use href="#s" transform="matrix(2.1792 0 0 .16229 1523.5 158.8)"/>
<use href="#s" transform="matrix(1.5231 0 0 .14237 1629.8 158.8)"/>
<use href="#s" transform="matrix(.9162 0 0 .12687 1644.4 158.8)"/>
<use href="#s" transform="matrix(1.0613 0 0 .1189 1671.6 158.8)"/>
<use href="#s" transform="matrix(1.1133 0 0 .12777 1642.6 158.8)"/>
<use href="#s" transform="matrix(6.766 0 0 .18887 1657.7 158.8)"/>
<use href="#s" transform="matrix(.8412 0 0 .11895 1528.6 158.8)"/>
<use href="#s" transform="matrix(8.858 0 0 .20054 1623.2 158.8)"/>
<use href="#s" transform="matrix(1.6573 0 0 .14894 1620.5 158.8)"/>
<use href="#s" transform="matrix(1.7097 0 0 .15772 1636 158.8)"/>
<use href="#s" transform="matrix(1.1422 0 0 .11583 1655.9 158.8)"/>
<use href="#s" transform="matrix(1.851 0 0 .10434 1655.9 158.8)"/>
<use href="#s" transform="matrix(.7069 0 0 .11745 1670.7 158.8)"/>
<use href="#s" transform="matrix(.8756 0 0 .10957 1629.2 158.8)"/>
<use href="#s" transform="matrix(1.1104 0 0 .1145 1434 158.8)"/>
<use href="#s" transform="matrix(1.2968 0 0 .15186 1517.7 158.8)"/>
<use href="#s" transform="matrix(.8297 0 0 .12992 1528.6 158.8)"/>
<use href="#s" transform="matrix(3.5245 0 0 .16117 1653.5 158.8)"/>
<use href="#s" transform="matrix(1.0334 0 0 .11251 1632 158.8)"/>
<use href="#s" transform="matrix(6.0192 0 0 .16466 1460.2 158.8)"/>
<use href="#s" transform="matrix(2.4915 0 0 .12599 1559.9 158.8)"/>
<use href="#s" transform="matrix(1.0561 0 0 .1101 1657.6 158.8)"/>
<use href="#s" transform="matrix(1.0165 0 0 .12903 1671.1 158.8)"/>
<use href="#s" transform="matrix(1.118 0 0 .12384 1666.4 158.8)"/>
<use href="#s" transform="matrix(.6521 0 0 .11907 1479.3 158.8)"/>
<use href="#s" transform="matrix(.99 0 0 .11383 1605.4 158.8)"/>
<use href="#s" transform="matrix(6.886 0 0 .17578 1631.4 158.8)"/>
<use href="#s" transform="matrix(2.8517 0 0 .15034 1491 158.8)"/>
<use href="#s" transform="matrix(.684 0 0 .09996 1476.9 158.8)"/>
<use href="#s" transform="matrix(1.8356 0 0 .16184 1678.2 158.8)"/>
<use href="#s" transform="matrix(1.6996 0 0 .13444 1566.5 158.8)"/>
<use href="#s" transform="matrix(1.0195 0 0 .12318 1596.6 158.8)"/>
<use href="#s" transform="matrix(1.1082 0 0 .12367 1552.6 158.8)"/>
<use href="#s" transform="matrix(1.9877 0 0 .16553 1700.3 158.8)"/>
<use href="#s" transform="matrix(3.3445 0 0 .10076 1619.3 158.8)"/>
<use href="#s" transform="matrix(1.3118 0 0 .12687 1394 158.8)"/>
<use href="#s" transform="matrix(3.6561 0 0 .12409 1341.7 158.8)"/>
<use href="#s" transform="matrix(3.3631 0 0 .13362 1656.6 158.8)"/>
<use href="#s" transform="matrix(1.1912 0 0 .13337 1530.4 158.8)"/>
<use href="#s" transform="matrix(1.5758 0 0 .13763 1491.8 158.8)"/>
<use href="#s" transform="matrix(1.1438 0 0 .11976 1673.6 158.8)"/>
<use href="#s" transform="matrix(1.2037 0 0 .1332 1658.5 158.8)"/>
<use href="#s" transform="matrix(3.7301 0 0 .16562 1636.1 158.8)"/>
<use href="#s" transform="matrix(2.6376 0 0 .13177 1675.9 158.8)"/>
<use href="#s" transform="matrix(1.2985 0 0 .11779 1439.2 158.8)"/>
<use href="#s" transform="matrix(1.6482 0 0 .14047 1552.7 158.8)"/>
<use href="#s" transform="matrix(1.6032 0 0 .1154 1523.6 158.8)"/>
<use href="#s" transform="matrix(1.9243 0 0 .14442 1360.1 158.8)"/>
<use href="#s" transform="matrix(1.1667 0 0 .14182 1633.1 158.8)"/>
<use href="#s" transform="matrix(1.8471 0 0 .13158 1623.4 158.8)"/>
<use href="#s" transform="matrix(2.0843 0 0 .15301 1657.2 158.8)"/>
<use href="#s" transform="matrix(2.998 0 0 .13935 1602.9 158.8)"/>
<use href="#s" transform="matrix(2.2373 0 0 .12751 1371.5 158.8)"/>
<use href="#s" transform="matrix(1.9639 0 0 .16061 1464.4 158.8)"/>
<use href="#s" transform="matrix(1.7495 0 0 .14455 1601.7 158.8)"/>
<use href="#s" transform="matrix(1.2343 0 0 .12608 1580 158.8)"/>
<use href="#s" transform="matrix(3.3746 0 0 .17168 1700.1 158.8)"/>
<use href="#s" transform="matrix(1.3046 0 0 .14529 1653 158.8)"/>
<use href="#s" transform="matrix(1.1881 0 0 .14226 1633.1 158.8)"/>
<use href="#s" transform="matrix(1.3109 0 0 .12004 1625.1 158.8)"/>
<use href="#s" transform="matrix(1.9506 0 0 .17312 1664.5 158.8)"/>
<use href="#s" transform="matrix(1.2736 0 0 .14925 1676.1 158.8)"/>
<use href="#s" transform="matrix(1.8155 0 0 .14196 1611.3 158.8)"/>
<use href="#s" transform="matrix(2.0289 0 0 .11991 1623.1 158.8)"/>
<use href="#s" transform="matrix(1.0264 0 0 .12109 1660.6 158.8)"/>
<use href="#s" transform="matrix(1.1831 0 0 .13293 1542.5 158.8)"/>
<use href="#s" transform="matrix(4.487 0 0 .14479 1544.2 158.8)"/>
<use href="#s" transform="matrix(6.1856 0 0 .16459 1630.4 158.8)"/>
<use href="#s" transform="matrix(2.2048 0 0 .12949 1596.4 158.8)"/>
<use href="#s" transform="matrix(1.2868 0 0 .14809 1546.1 158.8)"/>
<use href="#s" transform="matrix(1.711 0 0 .14935 1498.8 158.8)"/>
<use href="#s" transform="matrix(1.2187 0 0 .12592 1622.1 158.8)"/>
<use href="#s" transform="matrix(5.5309 0 0 .17865 1642.4 158.8)"/>
<use href="#s" transform="matrix(1.8648 0 0 .12632 1502 158.8)"/>
<use href="#s" transform="matrix(5.0252 0 0 .16304 1573.9 158.8)"/>
<use href="#s" transform="matrix(3.932 0 0 .16517 1641.4 158.8)"/>
<use href="#s" transform="matrix(1.3471 0 0 .13679 1695.4 158.8)"/>
<use href="#s" transform="matrix(1.731 0 0 .14475 1455.3 158.8)"/>
<use href="#s" transform="matrix(1.493 0 0 .13286 1634.9 158.8)"/>
<use href="#s" transform="matrix(1.573 0 0 .12051 1457.6 158.8)"/>
<use href="#s" transform="matrix(1.6681 0 0 .12512 1581.3 158.8)"/>
<use href="#s" transform="matrix(1.7583 0 0 .14686 1626.7 158.8)"/>
<use href="#s" transform="matrix(2.5919 0 0 .13438 1611 158.8)"/>
<use href="#s" transform="matrix(1.5048 0 0 .14167 1571.5 158.8)"/>
<use href="#s" transform="matrix(1.5786 0 0 .11927 1655.2 158.8)"/>
<use href="#s" transform="matrix(1.1072 0 0 .13369 1624.4 158.8)"/>
<use href="#s" transform="matrix(5.7467 0 0 .14783 1635.9 158.8)"/>
<use href="#s" transform="matrix(1.5343 0 0 .13402 1593.8 158.8)"/>
<use href="#s" transform="matrix(5.0014 0 0 .20229 1653.4 158.8)"/>
<use href="#s" transform="matrix(2.0123 0 0 .15741 1557.3 158.8)"/>
<use href="#s" transform="matrix(1.9546 0 0 .1327 1480.1 158.8)"/>
<use href="#s" transform="matrix(2.908 0 0 .13961 1570 158.8)"/>
<use href="#s" transform="matrix(1.239 0 0 .12301 1593.9 158.8)"/>
<use href="#s" transform="matrix(1.4283 0 0 .14376 1630.7 158.8)"/>
<use href="#s" transform="matrix(1.0036 0 0 .11208 1651.1 158.8)"/>
<use href="#s" transform="matrix(.7816 0 0 .10431 1636.9 158.8)"/>
<use href="#s" transform="matrix(2.177 0 0 .16247 1595 158.8)"/>
<use href="#s" transform="matrix(.8329 0 0 .10382 1724.8 158.8)"/>
<use href="#s" transform="matrix(3.5097 0 0 .16149 1631.8 158.8)"/>
<use href="#s" transform="matrix(2.3802 0 0 .13544 1602.2 158.8)"/>
<use href="#s" transform="matrix(2.2375 0 0 .16967 1700 158.8)"/>
<use href="#s" transform="matrix(3.1473 0 0 .12488 1642.2 158.8)"/>
<use href="#s" transform="matrix(2.9112 0 0 .13188 1610.2 158.8)"/>
<use href="#s" transform="matrix(1.164 0 0 .11938 1622.1 158.8)"/>
<use href="#s" transform="matrix(3.6813 0 0 .15599 1655 158.8)"/>
<use href="#s" transform="matrix(.822 0 0 .11082 1594.7 158.8)"/>
<use href="#s" transform="matrix(1.1525 0 0 .12919 1467.8 158.8)"/>
<use href="#s" transform="matrix(5.9075 0 0 .19732 1564 158.8)"/>
<use href="#s" transform="matrix(1.2557 0 0 .12879 1420 158.8)"/>
<use href="#s" transform="matrix(1.8786 0 0 .12295 1491.6 158.8)"/>
<use href="#s" transform="matrix(1.9647 0 0 .14488 1494.8 158.8)"/>
<use href="#s" transform="matrix(2.0895 0 0 .14531 1649.7 158.8)"/>
<use href="#s" transform="matrix(1.5933 0 0 .11554 1544.1 158.8)"/>
<use href="#s" transform="matrix(2.0979 0 0 .11809 1576.5 158.8)"/>
<use href="#s" transform="matrix(8.0395 0 0 .18975 1577.6 158.8)"/>
<use href="#s" transform="matrix(1.5432 0 0 .13802 1649 158.8)"/>
<use href="#s" transform="matrix(2.7332 0 0 .17748 1517.5 158.8)"/>
<use href="#s" transform="matrix(1.9714 0 0 .12104 1601.1 158.8)"/>
<use href="#s" transform="matrix(1.3841 0 0 .13337 1562.7 158.8)"/>
<use href="#s" transform="matrix(3.2216 0 0 .16008 1479.1 158.8)"/>
<use href="#s" transform="matrix(1.1787 0 0 .133 1647.5 158.8)"/>
<use href="#s" transform="matrix(1.891 0 0 .12471 1632.3 158.8)"/>
<use href="#s" transform="matrix(1.2412 0 0 .1322 1650.3 158.8)"/>
<use href="#s" transform="matrix(1.3599 0 0 .14185 1621.3 158.8)"/>
<use href="#s" transform="matrix(1.0442 0 0 .13236 1647.1 158.8)"/>
<use href="#s" transform="matrix(2.336 0 0 .11512 1689.4 158.8)"/>
<use href="#s" transform="matrix(1.9841 0 0 .15457 1690.6 158.8)"/>
<use href="#s" transform="matrix(1.1198 0 0 .13788 1557.6 158.8)"/>
<use href="#s" transform="matrix(3.9745 0 0 .1301 1410.2 158.8)"/>
<use href="#s" transform="matrix(2.4581 0 0 .13466 1454.9 158.8)"/>
<use href="#s" transform="matrix(2.0376 0 0 .11442 1366.1 158.8)"/>
<use href="#s" transform="matrix(3.2963 0 0 .17567 1667.8 158.8)"/>
<use href="#s" transform="matrix(1.1524 0 0 .12641 1624.5 158.8)"/>
<use href="#s" transform="matrix(4.1231 0 0 .19263 1351.8 158.8)"/>
<use href="#s" transform="matrix(2.0729 0 0 .1675 1676.7 158.8)"/>
<use href="#s" transform="matrix(2.0376 0 0 .16263 1638.8 158.8)"/>
<use href="#s" transform="matrix(3.0788 0 0 .12066 1604.8 158.8)"/>
<use href="#s" transform="matrix(1.1589 0 0 .10639 1696.3 158.8)"/>
<use href="#s" transform="matrix(2.0133 0 0 .16451 1637.1 158.8)"/>
<use href="#s" transform="matrix(1.2854 0 0 .13246 1650.9 158.8)"/>
<use href="#s" transform="matrix(1.5195 0 0 .1112 1447.9 158.8)"/>
<use href="#s" transform="matrix(2.836 0 0 .13968 1601 158.8)"/>
<use href="#s" transform="matrix(1.3794 0 0 .13624 1505.9 158.8)"/>
<use href="#s" transform="matrix(1.1909 0 0 .14298 1510.2 158.8)"/>
<use href="#s" transform="matrix(1.6084 0 0 .13251 1629.2 158.8)"/>
<use href="#s" transform="matrix(1.2226 0 0 .12158 1630.2 158.8)"/>
<use href="#s" transform="matrix(3.2218 0 0 .13292 1619.4 158.8)"/>
<use href="#s" transform="matrix(1.2726 0 0 .16133 1618.3 158.8)"/>
<use href="#s" transform="matrix(1.4478 0 0 .13588 1521 158.8)"/>
<use href="#s" transform="matrix(3.9312 0 0 .16095 1533.8 158.8)"/>
<use href="#s" transform="matrix(1.7612 0 0 .14779 1569.6 158.8)"/>
<use href="#s" transform="matrix(1.63 0 0 .16015 1718.7 158.8)"/>
<use href="#s" transform="matrix(.9894 0 0 .11656 1624.8 158.8)"/>
<use href="#s" transform="matrix(2.2286 0 0 .16674 1602.4 158.8)"/>
<use href="#s" transform="matrix(1.6214 0 0 .12489 1553.3 158.8)"/>
<use href="#s" transform="matrix(3.1064 0 0 .11247 1474.2 158.8)"/>
<use href="#s" transform="matrix(3.8391 0 0 .1618 1538.9 158.8)"/>
<use href="#s" transform="matrix(1.9494 0 0 .15523 1429.1 158.8)"/>
<use href="#s" transform="matrix(2.6942 0 0 .1838 1674.8 158.8)"/>
<use href="#s" transform="matrix(1.5278 0 0 .13632 1571.2 158.8)"/>
<use href="#s" transform="matrix(1.8272 0 0 .15174 1695.4 158.8)"/>
<use href="#s" transform="matrix(1.2309 0 0 .12818 1569 158.8)"/>
<use href="#s" transform="matrix(2.5679 0 0 .11941 1655.3 158.8)"/>
<use href="#s" transform="matrix(4.0004 0 0 .15953 1409.3 158.8)"/>
<use href="#s" transform="matrix(3.5155 0 0 .15869 1634.3 158.8)"/>
<use href="#s" transform="matrix(.8991 0 0 .11097 1649.9 158.8)"/>
<use href="#s" transform="matrix(2.4527 0 0 .17276 1684.6 158.8)"/>
<use href="#s" transform="matrix(1.266 0 0 .12601 1566 158.8)"/>
<use href="#s" transform="matrix(4.5199 0 0 .19117 1572.4 158.8)"/>
<use href="#s" transform="matrix(2.506 0 0 .14822 1494 158.8)"/>
<use href="#s" transform="matrix(1.5838 0 0 .13616 1554 158.8)"/>
<use href="#s" transform="matrix(1.907 0 0 .11343 1489.3 158.8)"/>
<use href="#s" transform="matrix(2.9256 0 0 .13732 1582.4 158.8)"/>
<use href="#s" transform="matrix(1.1657 0 0 .1157 1708.7 158.8)"/>
<use href="#s" transform="matrix(2.5514 0 0 .14792 1660.1 158.8)"/>
<use href="#s" transform="matrix(1.4499 0 0 .12126 1540 158.8)"/>
<use href="#s" transform="matrix(1.0858 0 0 .1289 1618.2 158.8)"/>
<use href="#s" transform="matrix(1.0114 0 0 .1181 1516.2 158.8)"/>
<use href="#s" transform="matrix(1.8636 0 0 .11822 1616.7 158.8)"/>
<use href="#s" transform="matrix(2.3902 0 0 .16643 1571.9 158.8)"/>
<use href="#s" transform="matrix(1.5683 0 0 .13635 1557.6 158.8)"/>
<use href="#s" transform="matrix(3.1352 0 0 .1631 1627.3 158.8)"/>
<use href="#s" transform="matrix(.9182 0 0 .10459 1418.7 158.8)"/>
<use href="#s" transform="matrix(1.7965 0 0 .13845 1475.1 158.8)"/>
<use href="#s" transform="matrix(3.0881 0 0 .15621 1481.2 158.8)"/>
<use href="#s" transform="matrix(1.4541 0 0 .13972 1432.8 158.8)"/>
<use href="#s" transform="matrix(3.0164 0 0 .14924 1646.3 158.8)"/>
<use href="#s" transform="matrix(1.8787 0 0 .11074 1399.5 158.8)"/>
<use href="#s" transform="matrix(1.3 0 0 .1371 1405 158.8)"/>
<use href="#s" transform="matrix(1.1271 0 0 .11446 1669.8 158.8)"/>
<use href="#s" transform="matrix(4.5257 0 0 .20115 1752.2 158.8)"/>
<use href="#s" transform="matrix(1.0929 0 0 .12257 1648.9 158.8)"/>
<use href="#s" transform="matrix(2.6505 0 0 .14408 1658.6 158.8)"/>
<use href="#s" transform="matrix(1.3745 0 0 .12801 1622 158.8)"/>
<use href="#s" transform="matrix(1.1457 0 0 .11363 1659.1 158.8)"/>
<use href="#s" transform="matrix(.881 0 0 .09631 1678 158.8)"/>
<use href="#s" transform="matrix(2.6353 0 0 .14941 1603.9 158.8)"/>
<use href="#s" transform="matrix(2.1408 0 0 .1655 1689.7 158.8)"/>
<use href="#s" transform="matrix(1.0022 0 0 .1384 1675.4 158.8)"/>
<use href="#s" transform="matrix(1.2953 0 0 .14032 1626.1 158.8)"/>
<use href="#s" transform="matrix(2.0881 0 0 .16888 1774.6 158.8)"/>
<use href="#s" transform="matrix(1.5316 0 0 .13531 1653.2 158.8)"/>
<use href="#s" transform="matrix(2.2968 0 0 .11484 1720.6 158.8)"/>
<use href="#s" transform="matrix(.9084 0 0 .13036 1627.3 158.8)"/>
<use href="#s" transform="matrix(1.8926 0 0 .12143 1651.6 158.8)"/>
<use href="#s" transform="matrix(1.7714 0 0 .16137 1424.7 158.8)"/>
<use href="#s" transform="matrix(1.1845 0 0 .134 1443.2 158.8)"/>
<use href="#s" transform="matrix(1.2944 0 0 .13534 1492 158.8)"/>
<use href="#s" transform="matrix(3.5923 0 0 .17711 1658.4 158.8)"/>
<use href="#s" transform="matrix(9.8083 0 0 .18152 1569.6 158.8)"/>
<use href="#s" transform="matrix(3.8429 0 0 .1433 1641.4 158.8)"/>
<use href="#s" transform="matrix(2.287 0 0 .12234 1422.1 158.8)"/>
<use href="#s" transform="matrix(4.0281 0 0 .17355 1679.6 158.8)"/>
<use href="#s" transform="matrix(1.1451 0 0 .13574 1550.7 158.8)"/>
<use href="#s" transform="matrix(1.1881 0 0 .1356 1561.7 158.8)"/>
<use href="#s" transform="matrix(1.4112 0 0 .13945 1638.6 158.8)"/>
<use href="#s" transform="matrix(1.268 0 0 .14832 1611.6 158.8)"/>
<use href="#s" transform="matrix(1.5316 0 0 .14474 1622.6 158.8)"/>
<use href="#s" transform="matrix(1.1776 0 0 .11605 1641.1 158.8)"/>
<use href="#s" transform="matrix(.8384 0 0 .07917 1614.7 158.8)"/>
<use href="#s" transform="matrix(2.2931 0 0 .1559 1629.6 158.8)"/>
<use href="#s" transform="matrix(2.0629 0 0 .14017 1606.8 158.8)"/>
<use href="#s" transform="matrix(1.0204 0 0 .11943 1341.2 158.8)"/>
<use href="#s" transform="matrix(1.4979 0 0 .15228 1606.7 158.8)"/>
<use href="#s" transform="matrix(1.6393 0 0 .11393 1615.4 158.8)"/>
<use href="#s" transform="matrix(1.051 0 0 .11688 1529.4 158.8)"/>
<use href="#s" transform="matrix(1.5785 0 0 .1072 1662.4 158.8)"/>
<use href="#s" transform="matrix(1.2209 0 0 .13678 1607.1 158.8)"/>
<use href="#s" transform="matrix(3.041 0 0 .12401 1683.1 158.8)"/>
<use href="#s" transform="matrix(2.0411 0 0 .15921 1698.7 158.8)"/>
<use href="#s" transform="matrix(2.1175 0 0 .15199 1536.9 158.8)"/>
<use href="#s" transform="matrix(4.2641 0 0 .1389 1627.8 158.8)"/>
<use href="#s" transform="matrix(6.5411 0 0 .17042 1544.8 158.8)"/>
<use href="#s" transform="matrix(3.7883 0 0 .1316 1550.5 158.8)"/>
<use href="#s" transform="matrix(1.9241 0 0 .12759 1639.3 158.8)"/>
<use href="#s" transform="matrix(1.0632 0 0 .10888 1643.9 158.8)"/>
<use href="#s" transform="matrix(1.8238 0 0 .16505 1666 158.8)"/>
<use href="#s" transform="matrix(2.504 0 0 .18099 1659.8 158.8)"/>
<use href="#s" transform="matrix(2.937 0 0 .14486 1678.2 158.8)"/>
<use href="#s" transform="matrix(1.838 0 0 .15869 1648.7 158.8)"/>
<use href="#s" transform="matrix(1.0318 0 0 .13791 1513.7 158.8)"/>
<use href="#s" transform="matrix(1.5858 0 0 .13794 1557.2 158.8)"/>
<use href="#s" transform="matrix(1.0398 0 0 .09981 1647.1 158.8)"/>
<use href="#s" transform="matrix(1.8055 0 0 .11857 1520.5 158.8)"/>
<use href="#s" transform="matrix(1.7163 0 0 .12212 1446.5 158.8)"/>
<use href="#s" transform="matrix(1.1846 0 0 .13255 1495.8 158.8)"/>
<use href="#s" transform="matrix(4.4949 0 0 .1671 1621.3 158.8)"/>
<use href="#s" transform="matrix(.8947 0 0 .106 1635.5 158.8)"/>
<use href="#s" transform="matrix(.895 0 0 .10675 1684 158.8)"/>
<use href="#s" transform="matrix(1.3026 0 0 .10192 1402.6 158.8)"/>
<use href="#s" transform="matrix(1.0062 0 0 .14448 1710 158.8)"/>
<use href="#s" transform="matrix(3.7843 0 0 .18557 1708.1 158.8)"/>
<use href="#s" transform="matrix(3.3196 0 0 .1292 1530 158.8)"/>
<use href="#s" transform="matrix(1.3074 0 0 .13296 1647.9 158.8)"/>
<use href="#s" transform="matrix(6.5142 0 0 .19841 1527.2 158.8)"/>
<use href="#s" transform="matrix(1.2047 0 0 .12238 1613.4 158.8)"/>
<use href="#s" transform="matrix(2.7314 0 0 .15974 1588.8 158.8)"/>
<use href="#s" transform="matrix(1.7149 0 0 .14295 1479.5 158.8)"/>
<use href="#s" transform="matrix(1.8402 0 0 .16115 1606.4 158.8)"/>
<use href="#s" transform="matrix(1.0185 0 0 .10779 1712.5 158.8)"/>
<use href="#s" transform="matrix(1.4307 0 0 .1363 1662.5 158.8)"/>
<use href="#s" transform="matrix(1.9299 0 0 .12733 1490.9 158.8)"/>
<use href="#s" transform="matrix(3.1132 0 0 .18434 1651.5 158.8)"/>
<use href="#s" transform="matrix(3.5565 0 0 .15121 1643.9 158.8)"/>
<use href="#s" transform="matrix(2.3978 0 0 .14051 1676.1 158.8)"/>
<use href="#s" transform="matrix(1.9277 0 0 .1521 1634.4 158.8)"/>
<use href="#s" transform="matrix(.9371 0 0 .11788 1634.6 158.8)"/>
<use href="#s" transform="matrix(.7271 0 0 .0923 1664.8 158.8)"/>
<use href="#s" transform="matrix(1.3504 0 0 .13406 1615.2 158.8)"/>
<use href="#s" transform="matrix(1.8968 0 0 .15627 1554.7 158.8)"/>
<use href="#s" transform="matrix(2.2066 0 0 .11277 1464.6 158.8)"/>
<use href="#s" transform="matrix(1.9217 0 0 .16162 1683.6 158.8)"/>
<use href="#s" transform="matrix(1.0773 0 0 .12294 1684.3 158.8)"/>
<use href="#s" transform="matrix(.9617 0 0 .13196 1447.1 158.8)"/>
<use href="#s" transform="matrix(1.2314 0 0 .12179 1471.8 158.8)"/>
<use href="#s" transform="matrix(6.7612 0 0 .18972 1646.6 158.8)"/>
<use href="#s" transform="matrix(1.0561 0 0 .1129 1543.6 158.8)"/>
<use href="#s" transform="matrix(1.8811 0 0 .16923 1652.1 158.8)"/>
<use href="#s" transform="matrix(2.6344 0 0 .12547 1406.9 158.8)"/>
<use href="#s" transform="matrix(2.1499 0 0 .1576 1635.5 158.8)"/>
<use href="#s" transform="matrix(1.1696 0 0 .12358 1411.3 158.8)"/>
<use href="#s" transform="matrix(2.4981 0 0 .15771 1627.2 158.8)"/>
<use href="#s" transform="matrix(.9753 0 0 .11602 1642 158.8)"/>
<use href="#s" transform="matrix(1.9828 0 0 .15716 1709.1 158.8)"/>
<use href="#s" transform="matrix(1.5361 0 0 .14943 1623.2 158.8)"/>
<use href="#s" transform="matrix(7.5132 0 0 .19266 1580.3 158.8)"/>
<use href="#s" transform="matrix(1.7509 0 0 .1509 1590.5 158.8)"/>
<use href="#s" transform="matrix(1.2358 0 0 .12023 1553.8 158.8)"/>
<use href="#s" transform="matrix(1.3395 0 0 .13138 1397.5 158.8)"/>
<use href="#s" transform="matrix(2.6701 0 0 .14366 1496.9 158.8)"/>
<use href="#s" transform="matrix(1.1827 0 0 .12833 1677.2 158.8)"/>
<use href="#s" transform="matrix(2.3919 0 0 .12683 1533.9 158.8)"/>
<use href="#s" transform="matrix(.982 0 0 .12076 1488.8 158.8)"/>
<use href="#s" transform="matrix(3.4848 0 0 .16228 1451.4 158.8)"/>
<use href="#s" transform="matrix(1.3095 0 0 .1374 1656.4 158.8)"/>
<use href="#s" transform="matrix(2.0138 0 0 .13402 1602.6 158.8)"/>
<use href="#s" transform="matrix(2.1785 0 0 .16228 1521.3 158.8)"/>
<use href="#s" transform="matrix(1.4177 0 0 .12041 1581.2 158.8)"/>
<use href="#s" transform="matrix(1.6282 0 0 .13947 1540.6 158.8)"/>
<use href="#s" transform="matrix(2.0096 0 0 .16133 1665.2 158.8)"/>
<use href="#s" transform="matrix(4.1646 0 0 .1346 1649.8 158.8)"/>
<use href="#s" transform="matrix(1.5094 0 0 .1605 1660.4 158.8)"/>
<use href="#s" transform="matrix(1.2814 0 0 .1294 1634 158.8)"/>
<use href="#s" transform="matrix(1.0694 0 0 .11127 1678.3 158.8)"/>
<use href="#s" transform="matrix(1.5856 0 0 .1296 1524.5 158.8)"/>
<use href="#s" transform="matrix(3.7128 0 0 .13791 1462.8 158.8)"/>
<use href="#s" transform="matrix(2.5029 0 0 .11274 1595.7 158.8)"/>
<use href="#s" transform="matrix(2.7161 0 0 .16108 1645.5 158.8)"/>
<use href="#s" transform="matrix(3.9605 0 0 .17716 1654.1 158.8)"/>
<use href="#s" transform="matrix(1.0054 0 0 .11185 1578 158.8)"/>
<use href="#s" transform="matrix(1.1059 0 0 .12502 1488.5 158.8)"/>
<use href="#s" transform="matrix(1.1428 0 0 .12579 1692.5 158.8)"/>
<use href="#s" transform="matrix(1.2337 0 0 .11992 1575.4 158.8)"/>
<use href="#s" transform="matrix(2.6043 0 0 .13982 1520.8 158.8)"/>
<use href="#s" transform="matrix(2.6203 0 0 .17732 1732.9 158.8)"/>
<use href="#s" transform="matrix(.8426 0 0 .106 1631.1 158.8)"/>
<use href="#s" transform="matrix(2.5154 0 0 .14267 1674.6 158.8)"/>
<use href="#s" transform="matrix(1.3552 0 0 .14829 1474.4 158.8)"/>
<use href="#s" transform="matrix(1.4637 0 0 .13885 1527.6 158.8)"/>
<use href="#s" transform="matrix(1.328 0 0 .11234 1630.1 158.8)"/>
<use href="#s" transform="matrix(1.8579 0 0 .15109 1668.6 158.8)"/>
<use href="#s" transform="matrix(1.4429 0 0 .12845 1609.9 158.8)"/>
<use href="#s" transform="matrix(.9956 0 0 .11555 1661.3 158.8)"/>
<use href="#s" transform="matrix(4.6885 0 0 .15143 1577.9 158.8)"/>
<use href="#s" transform="matrix(1.0615 0 0 .12427 1476.9 158.8)"/>
<use href="#s" transform="matrix(2.4179 0 0 .1239 1500.7 158.8)"/>
<use href="#s" transform="matrix(1.4879 0 0 .16148 1650 158.8)"/>
<use href="#s" transform="matrix(2.7358 0 0 .16997 1563.3 158.8)"/>
<use href="#s" transform="matrix(3.897 0 0 .12697 1555.2 158.8)"/>
<use href="#s" transform="matrix(1.0001 0 0 .13369 1478.4 158.8)"/>
<use href="#s" transform="matrix(3.065 0 0 .12803 1596.2 158.8)"/>
<use href="#s" transform="matrix(4.1809 0 0 .14603 1628.7 158.8)"/>
<use href="#s" transform="matrix(2.0203 0 0 .13147 1516.2 158.8)"/>
<use href="#s" transform="matrix(1.5862 0 0 .14884 1638.4 158.8)"/>
<use href="#s" transform="matrix(2.0646 0 0 .16117 1627.9 158.8)"/>
<use href="#s" transform="matrix(2.1219 0 0 .17204 1632.1 158.8)"/>
<use href="#s" transform="matrix(1.4356 0 0 .13367 1503.9 158.8)"/>
<use href="#s" transform="matrix(1.233 0 0 .13854 1685.9 158.8)"/>
<use href="#s" transform="matrix(1.3158 0 0 .13872 1515.9 158.8)"/>
<use href="#s" transform="matrix(.9635 0 0 .11909 1601.3 158.8)"/>
<use href="#s" transform="matrix(.9942 0 0 .12582 1617.9 158.8)"/>
<use href="#s" transform="matrix(3.0379 0 0 .13842 1418.8 158.8)"/>
<use href="#s" transform="matrix(1.3767 0 0 .13889 1563.5 158.8)"/>
<use href="#s" transform="matrix(1.8155 0 0 .15312 1689.9 158.8)"/>
<use href="#s" transform="matrix(1.7889 0 0 .14675 1664.7 158.8)"/>
<use href="#s" transform="matrix(1.8808 0 0 .12448 1684.6 158.8)"/>
<use href="#s" transform="matrix(1.9013 0 0 .15314 1634.6 158.8)"/>
<use href="#s" transform="matrix(1.4627 0 0 .13788 1659.3 158.8)"/>
<use href="#s" transform="matrix(4.1235 0 0 .09995 1690.6 158.8)"/>
<use href="#s" transform="matrix(1.391 0 0 .13144 1645.9 158.8)"/>
<use href="#s" transform="matrix(1.0989 0 0 .1123 1520.4 158.8)"/>
<use href="#s" transform="matrix(1.3982 0 0 .1254 1653.6 158.8)"/>
<use href="#s" transform="matrix(1.2037 0 0 .11431 1704.2 158.8)"/>
<use href="#s" transform="matrix(3.9431 0 0 .1707 1656.3 158.8)"/>
<use href="#s" transform="matrix(1.7752 0 0 .11356 1605.7 158.8)"/>
<use href="#s" transform="matrix(2.3873 0 0 .13218 1343.1 158.8)"/>
<use href="#s" transform="matrix(5.2603 0 0 .1563 1571.2 158.8)"/>
<use href="#s" transform="matrix(2.22 0 0 .1311 1390.9 158.8)"/>
<use href="#s" transform="matrix(.9476 0 0 .10697 1665.5 158.8)"/>
<use href="#s" transform="matrix(1.4386 0 0 .14317 1662.1 158.8)"/>
<use href="#s" transform="matrix(3.2376 0 0 .16133 1586.7 158.8)"/>
<use href="#s" transform="matrix(2.7777 0 0 .12914 1683.5 158.8)"/>
<use href="#s" transform="matrix(4.7939 0 0 .15361 1641.7 158.8)"/>
<use href="#s" transform="matrix(1.2928 0 0 .13464 1609.8 158.8)"/>
<use href="#s" transform="matrix(1.4369 0 0 .13806 1552.5 158.8)"/>
<use href="#s" transform="matrix(2.4825 0 0 .17592 1676.8 158.8)"/>
<use href="#s" transform="matrix(2.8264 0 0 .11757 1523.5 158.8)"/>
<use href="#s" transform="matrix(1.9779 0 0 .16068 1667 158.8)"/>
<use href="#s" transform="matrix(1.1309 0 0 .11379 1758.7 158.8)"/>
<use href="#s" transform="matrix(1.323 0 0 .12644 1469.1 158.8)"/>
<use href="#s" transform="matrix(1.19 0 0 .12058 1520.5 158.8)"/>
<use href="#s" transform="matrix(2.0065 0 0 .16816 1594.2 158.8)"/>
<use href="#s" transform="matrix(5.3759 0 0 .15781 1598.8 158.8)"/>
<use href="#s" transform="matrix(2.7807 0 0 .15116 1500.7 158.8)"/>
<use href="#s" transform="matrix(1.3043 0 0 .14164 1425.5 158.8)"/>
<use href="#s" transform="matrix(3.9618 0 0 .14892 1690.7 158.8)"/>
<use href="#s" transform="matrix(1.0273 0 0 .11493 1544 158.8)"/>
<use href="#s" transform="matrix(6.6051 0 0 .20647 1713 158.8)"/>
<use href="#s" transform="matrix(4.9557 0 0 .17494 1631.7 158.8)"/>
<use href="#s" transform="matrix(3.1336 0 0 .15238 1659.7 158.8)"/>
<use href="#s" transform="matrix(1.6205 0 0 .14065 1551.6 158.8)"/>
<use href="#s" transform="matrix(1.1131 0 0 .14253 1523.8 158.8)"/>
<use href="#s" transform="matrix(1.3093 0 0 .1288 1474.4 158.8)"/>
<use href="#s" transform="matrix(1.6624 0 0 .12263 1515.9 158.8)"/>
<use href="#s" transform="matrix(4.0833 0 0 .16439 1640.2 158.8)"/>
<use href="#s" transform="matrix(2.5832 0 0 .15902 1562.9 158.8)"/>
<use href="#s" transform="matrix(3.2218 0 0 .15815 1587.2 158.8)"/>
<use href="#s" transform="matrix(2.6069 0 0 .14816 1557.2 158.8)"/>
<use href="#s" transform="matrix(.8521 0 0 .10125 1675.4 158.8)"/>
<use href="#s" transform="matrix(3.7305 0 0 .17034 1613.3 158.8)"/>
<use href="#s" transform="matrix(1.2132 0 0 .12093 1623.1 158.8)"/>
<use href="#s" transform="matrix(2.2344 0 0 .13258 1448.7 158.8)"/>
<use href="#s" transform="matrix(.7302 0 0 .10274 1679.2 158.8)"/>
<use href="#s" transform="matrix(1.4319 0 0 .1469 1497 158.8)"/>
<use href="#s" transform="matrix(1.1606 0 0 .11607 1682.7 158.8)"/>
<use href="#s" transform="matrix(4.319 0 0 .1446 1429.6 158.8)"/>
<use href="#s" transform="matrix(7.0044 0 0 .20305 1631.9 158.8)"/>
<use href="#s" transform="matrix(2.4127 0 0 .13172 1649.6 158.8)"/>
<use href="#s" transform="matrix(2.9328 0 0 .1544 1525.7 158.8)"/>
<use href="#s" transform="matrix(.9742 0 0 .13298 1677 158.8)"/>
<use href="#s" transform="matrix(2.4433 0 0 .17729 1629.1 158.8)"/>
<use href="#s" transform="matrix(1.1414 0 0 .11328 1646.5 158.8)"/>
<use href="#s" transform="matrix(.777 0 0 .09529 1593.7 158.8)"/>
<use href="#s" transform="matrix(1.1686 0 0 .13504 1500 158.8)"/>
<use href="#s" transform="matrix(2.0021 0 0 .1336 1586.1 158.8)"/>
<use href="#s" transform="matrix(2.154 0 0 .1243 1634.6 158.8)"/>
<use href="#s" transform="matrix(1.7164 0 0 .15731 1424.9 158.8)"/>
<use href="#s" transform="matrix(2.8242 0 0 .18408 1678.6 158.8)"/>
<use href="#s" transform="matrix(5.5087 0 0 .14884 1598.7 158.8)"/>
<use href="#s" transform="matrix(2.4311 0 0 .16166 1396.8 158.8)"/>
<use href="#s" transform="matrix(3.3047 0 0 .14277 1590.4 158.8)"/>
<use href="#s" transform="matrix(1.1283 0 0 .13625 1630.6 158.8)"/>
<use href="#s" transform="matrix(1.605 0 0 .13092 1577.4 158.8)"/>
<use href="#s" transform="matrix(3.9743 0 0 .1404 1597 158.8)"/>
<use href="#s" transform="matrix(1.3419 0 0 .14286 1650.9 158.8)"/>
<use href="#s" transform="matrix(1.7869 0 0 .14267 1670.4 158.8)"/>
<use href="#s" transform="matrix(3.7455 0 0 .18387 1608.2 158.8)"/>
<use href="#s" transform="matrix(1.4969 0 0 .13533 1620 158.8)"/>
<use href="#s" transform="matrix(1.9197 0 0 .11724 1669.5 158.8)"/>
<use href="#s" transform="matrix(2.679 0 0 .12245 1627.5 158.8)"/>
<use href="#s" transform="matrix(3.2824 0 0 .14218 1482.4 158.8)"/>
<use href="#s" transform="matrix(2.1581 0 0 .1586 1640.9 158.8)"/>
<use href="#s" transform="matrix(1.0966 0 0 .12274 1528.7 158.8)"/>
<use href="#s" transform="matrix(2.9793 0 0 .15694 1540.2 158.8)"/>
<use href="#s" transform="matrix(2.9991 0 0 .15041 1643.3 158.8)"/>
<use href="#s" transform="matrix(1.0728 0 0 .14325 1437.1 158.8)"/>
<use href="#s" transform="matrix(1.7118 0 0 .15105 1609.3 158.8)"/>
<use href="#s" transform="matrix(2.0894 0 0 .12302 1529.5 158.8)"/>
<use href="#s" transform="matrix(2.3587 0 0 .12775 1527.1 158.8)"/>
<use href="#s" transform="matrix(1.8236 0 0 .15609 1684.5 158.8)"/>
<use href="#s" transform="matrix(1.0733 0 0 .123 1615.6 158.8)"/>
<use href="#s" transform="matrix(3.7856 0 0 .15222 1684.1 158.8)"/>
<use href="#s" transform="matrix(1.2203 0 0 .12258 1647.2 158.8)"/>
<use href="#s" transform="matrix(7.162 0 0 .21858 1698.7 158.8)"/>
<use href="#s" transform="matrix(1.1892 0 0 .10948 1553.7 158.8)"/>
<use href="#s" transform="matrix(2.6466 0 0 .16615 1512.1 158.8)"/>
<use href="#s" transform="matrix(1.501 0 0 .14481 1683.9 158.8)"/>
<use href="#s" transform="matrix(1.1925 0 0 .1331 1577.8 158.8)"/>
<use href="#s" transform="matrix(1.7084 0 0 .12735 1657.9 158.8)"/>
<use href="#s" transform="matrix(3.3323 0 0 .1124 1666.9 158.8)"/>
<use href="#s" transform="matrix(1.5632 0 0 .14624 1496.7 158.8)"/>
<use href="#s" transform="matrix(4.1477 0 0 .12832 1593.6 158.8)"/>
<use href="#s" transform="matrix(1.0873 0 0 .11325 1554.3 158.8)"/>
<use href="#s" transform="matrix(1.4032 0 0 .15216 1483.4 158.8)"/>
<use href="#s" transform="matrix(1.7175 0 0 .12542 1537.3 158.8)"/>
<use href="#s" transform="matrix(1.1373 0 0 .11631 1672.7 158.8)"/>
<use href="#s" transform="matrix(2.1733 0 0 .12174 1411.4 158.8)"/>
<use href="#s" transform="matrix(5.3268 0 0 .17524 1641.9 158.8)"/>
<use href="#s" transform="matrix(.843 0 0 .10392 1650.2 158.8)"/>
<use href="#s" transform="matrix(2.7415 0 0 .14398 1531.5 158.8)"/>
<use href="#s" transform="matrix(1.4588 0 0 .15407 1638.7 158.8)"/>
<use href="#s" transform="matrix(2.3458 0 0 .13831 1611.1 158.8)"/>
<use href="#s" transform="matrix(2.3545 0 0 .13471 1502.2 158.8)"/>
<use href="#s" transform="matrix(1.3093 0 0 .11878 1649.9 158.8)"/>
<use href="#s" transform="matrix(1.3025 0 0 .12589 1665.5 158.8)"/>
<use href="#s" transform="matrix(1.4432 0 0 .1127 1515.7 158.8)"/>
<use href="#s" transform="matrix(.9567 0 0 .13294 1608.4 158.8)"/>
<use href="#s" transform="matrix(2.3087 0 0 .11175 1617.6 158.8)"/>
<use href="#s" transform="matrix(1.8446 0 0 .15255 1658.3 158.8)"/>
<use href="#s" transform="matrix(2.8149 0 0 .14441 1683.1 158.8)"/>
<use href="#s" transform="matrix(1.0466 0 0 .12137 1704.8 158.8)"/>
<use href="#s" transform="matrix(1.8013 0 0 .15018 1553.3 158.8)"/>
<use href="#s" transform="matrix(1.8678 0 0 .1171 1461.9 158.8)"/>
<use href="#s" transform="matrix(1.807 0 0 .12448 1496.7 158.8)"/>
<use href="#s" transform="matrix(1.4287 0 0 .11484 1653.7 158.8)"/>
<use href="#s" transform="matrix(2.3742 0 0 .15852 1658.4 158.8)"/>
<use href="#s" transform="matrix(4.1999 0 0 .14153 1688.7 158.8)"/>
<use href="#s" transform="matrix(1.025 0 0 .12737 1717 158.8)"/>
<use href="#s" transform="matrix(.9854 0 0 .13042 1646 158.8)"/>
<use href="#s" transform="matrix(.9172 0 0 .12898 1629.7 158.8)"/>
<use href="#s" transform="matrix(.8638 0 0 .12647 1557.2 158.8)"/>
<use href="#s" transform="matrix(3.0611 0 0 .15046 1648.6 158.8)"/>
<use href="#s" transform="matrix(4.083 0 0 .14386 1595.8 158.8)"/>
<use href="#s" transform="matrix(1.3301 0 0 .12003 1549.1 158.8)"/>
<use href="#s" transform="matrix(3.3766 0 0 .22395 1626.8 158.8)"/>
<use href="#s" transform="matrix(3.9393 0 0 .20953 1463.7 158.8)"/>
<use href="#s" transform="matrix(3.6363 0 0 .20783 1508.6 158.8)"/>
<use href="#s" transform="matrix(2.6262 0 0 .20274 1626.8 158.8)"/>
<use href="#s" transform="matrix(2.3636 0 0 .2002 1626.8 158.8)"/>
</g>
<path d="M445.0 161.3 L450.9 161.4 L456.8 161.5 L462.8 161.6 L468.7 161.7 L474.6 161.8 L480.5 161.9 L486.5 162.0 L492.4 162.1 L498.3 162.2 L504.2 162.4 L510.2 162.5 L516.1 162.6 L522.0 162.7 L527.9 162.9 L533.9 163.0 L539.8 163.2 L545.7 163.3 L551.6 163.5 L557.6 163.6 L563.5 163.8 L569.4 164.0 L575.3 164.2 L581.2 164.3 L587.2 164.5 L593.1 164.7 L599.0 165.0 L604.9 165.2 L610.9 165.4 L616.8 165.6 L622.7 165.9 L628.6 166.1 L634.6 166.4 L640.5 166.6 L646.4 166.9 L652.3 167.2 L658.3 167.5 L664.2 167.8 L670.1 168.1 L676.0 168.4 L682.0 168.7 L687.9 169.1 L693.8 169.4 L699.7 169.8 L705.6 170.2 L711.6 170.6 L717.5 171.0 L723.4 171.4 L729.3 171.9 L735.3 172.3 L741.2 172.8 L747.1 173.3 L753.0 173.8 L759.0 174.3 L764.9 174.8 L770.8 175.4 L776.7 176.0 L782.7 176.6 L788.6 177.2 L794.5 177.8 L800.4 178.5 L806.4 179.1 L812.3 179.8 L818.2 180.6 L824.1 181.3 L830.0 182.1 L836.0 182.9 L841.9 183.7 L847.8 184.6 L853.7 185.5 L859.7 186.4 L865.6 187.3 L871.5 188.3 L877.4 189.3 L883.4 190.4 L889.3 191.5 L895.2 192.6 L901.1 193.7 L907.1 194.9 L913.0 196.2 L918.9 197.4 L924.8 198.8 L930.8 200.1 L936.7 201.5 L942.6 203.0 L948.5 204.5 L954.4 206.0 L960.4 207.6 L966.3 209.3 L972.2 211.0 L978.1 212.7 L984.1 214.6 L990.0 216.4 L995.9 218.4 L1001.8 220.4 L1007.8 222.4 L1013.7 224.6 L1019.6 226.7 L1025.5 229.0 L1031.5 231.3 L1037.4 233.8 L1043.3 236.2 L1049.2 238.8 L1055.2 241.4 L1061.1 244.2 L1067.0 247.0 L1072.9 249.9 L1078.8 252.8 L1084.8 255.9 L1090.7 259.1 L1096.6 262.3 L1102.5 265.7 L1108.5 269.1 L1114.4 272.7 L1120.3 276.4 L1126.2 280.1 L1132.2 284.0 L1138.1 288.0 L1144.0 292.1 L1149.9 296.3 L1155.9 300.7 L1161.8 305.1 L1167.7 309.7 L1173.6 314.4 L1179.6 319.2 L1185.5 324.2 L1191.4 329.3 L1197.3 334.5 L1203.2 339.9 L1209.2 345.4 L1215.1 351.1 L1221.0 356.9 L1226.9 362.8 L1232.9 368.9 L1238.8 375.1 L1244.7 381.5 L1250.6 388.1 L1256.6 394.8 L1262.5 401.6 L1268.4 408.6 L1274.3 415.8 L1280.3 423.1 L1286.2 430.6 L1292.1 438.2 L1298.0 446.0 L1304.0 454.0 L1309.9 462.1 L1315.8 470.4 L1321.7 478.9 L1327.6 487.5 L1333.6 496.3 L1339.5 505.2 L1345.4 514.3 L1351.3 523.5 L1357.3 532.9 L1363.2 542.5 L1369.1 552.2 L1375.0 562.0 L1381.0 572.0 L1386.9 582.2 L1392.8 592.5 L1398.7 602.9 L1404.7 613.5 L1410.6 624.1 L1416.5 635.0 L1422.4 645.9 L1428.4 657.0 L1434.3 668.1 L1440.2 679.4 L1446.1 690.8 L1452.0 702.3 L1458.0 713.8 L1463.9 725.5 L1469.8 737.2 L1475.7 749.0 L1481.7 760.9 L1487.6 772.8 L1493.5 784.8 L1499.4 796.8 L1505.4 808.9 L1511.3 821.0 L1517.2 833.2 L1523.1 845.3 L1529.1 857.5 L1535.0 869.6 L1540.9 881.8 L1546.8 894.0 L1552.8 906.1 L1558.7 918.2 L1564.6 930.3 L1570.5 942.3 L1576.4 954.3 L1582.4 966.3 L1588.3 978.2 L1594.2 990.0 L1600.1 1001.7 L1606.1 1013.4 L1612.0 1025.0 L1617.9 1036.5 L1623.8 1047.9 L1629.8 1059.2 L1635.7 1070.4 L1641.6 1081.5 L1647.5 1092.4 L1653.5 1103.3 L1659.4 1114.0 L1665.3 1124.6 L1671.2 1135.1 L1677.2 1145.4 L1683.1 1155.6 L1689.0 1165.6 L1694.9 1175.5 L1700.8 1185.2 L1706.8 1194.8 L1712.7 1204.3 L1718.6 1213.5 L1724.5 1222.7 L1730.5 1231.6 L1736.4 1240.4 L1742.3 1249.1 L1748.2 1257.6 L1754.2 1265.9 L1760.1 1274.1 L1766.0 1282.1 L1771.9 1289.9 L1777.9 1297.6 L1783.8 1305.1 L1789.7 1312.5 L1795.6 1319.7 L1801.6 1326.7 L1807.5 1333.6 L1813.4 1340.4 L1819.3 1346.9 L1825.2 1353.4 L1831.2 1359.6 L1837.1 1365.8 L1843.0 1371.7 L1848.9 1377.6 L1854.9 1383.3 L1860.8 1388.8 L1866.7 1394.2 L1872.6 1399.5 L1878.6 1404.6 L1884.5 1409.6 L1890.4 1414.5 L1896.3 1419.2 L1902.3 1423.8 L1908.2 1428.3 L1914.1 1432.7 L1920.0 1436.9 L1926.0 1441.0 L1931.9 1445.1 L1937.8 1449.0 L1943.7 1452.8 L1949.6 1456.4 L1955.6 1460.0 L1961.5 1463.5 L1967.4 1466.9 L1973.3 1470.2 L1979.3 1473.4 L1985.2 1476.4 L1991.1 1479.4 L1997.0 1482.4 L2003.0 1485.2 L2008.9 1487.9 L2014.8 1490.6 L2020.7 1493.2 L2026.7 1495.7 L2032.6 1498.1 L2038.5 1500.5 L2044.4 1502.7 L2050.4 1504.9 L2056.3 1507.1 L2062.2 1509.2 L2068.1 1511.2 L2074.0 1513.1 L2080.0 1515.0 L2085.9 1516.8 L2091.8 1518.6 L2097.7 1520.3 L2103.7 1522.0 L2109.6 1523.6 L2115.5 1525.2 L2121.4 1526.7 L2127.4 1528.1 L2133.3 1529.6 L2139.2 1530.9 L2145.1 1532.3 L2151.1 1533.5 L2157.0 1534.8 L2162.9 1536.0 L2168.8 1537.2 L2174.8 1538.3 L2180.7 1539.4 L2186.6 1540.4 L2192.5 1541.4 L2198.4 1542.4 L2204.4 1543.4 L2210.3 1544.3 L2216.2 1545.2 L2222.1 1546.1 L2228.1 1546.9 L2234.0 1547.7 L2239.9 1548.5 L2245.8 1549.3 L2251.8 1550.0 L2257.7 1550.7 L2263.6 1551.4 L2269.5 1552.1 L2275.5 1552.7 L2281.4 1553.3 L2287.3 1553.9 L2293.2 1554.5 L2299.2 1555.1 L2305.1 1555.6 L2311.0 1556.1 L2316.9 1556.6 L2322.8 1557.1 L2328.8 1557.6 L2334.7 1558.0 L2340.6 1558.5 L2346.5 1558.9 L2352.5 1559.3 L2358.4 1559.7 L2364.3 1560.1 L2370.2 1560.5 L2376.2 1560.8 L2382.1 1561.2 L2388.0 1561.5 L2393.9 1561.9 L2399.9 1562.2 L2405.8 1562.5 L2411.7 1562.8 L2417.6 1563.1 L2423.6 1563.3 L2429.5 1563.6 L2435.4 1563.9 L2441.3 1564.1 L2447.2 1564.3 L2453.2 1564.6 L2459.1 1564.8 L2465.0 1565.0 L2470.9 1565.2 L2476.9 1565.4 L2482.8 1565.6 L2488.7 1565.8 L2494.6 1566.0 L2500.6 1566.2 L2506.5 1566.3 L2512.4 1566.5 L2518.3 1566.7 L2524.3 1566.8 L2530.2 1567.0 L2536.1 1567.1 L2542.0 1567.2 L2548.0 1567.4 L2553.9 1567.5 L2559.8 1567.6 L2565.7 1567.8 L2571.6 1567.9 L2577.6 1568.0 L2583.5 1568.1 L2589.4 1568.2 L2595.3 1568.3 L2601.3 1568.4 L2607.2 1568.5 L2613.1 1568.6 L2619.0 1568.7 L2625.0 1568.8 L2630.9 1568.8 L2636.8 1568.9 L2642.7 1569.0 L2648.7 1569.1 L2654.6 1569.2 L2660.5 1569.2 L2666.4 1569.3 L2672.4 1569.4 L2678.3 1569.4 L2684.2 1569.5 L2690.1 1569.5 L2696.0 1569.6 L2702.0 1569.6 L2707.9 1569.7 L2713.8 1569.8 L2719.7 1569.8 L2725.7 1569.9 L2731.6 1569.9 L2737.5 1569.9 L2743.4 1570.0 L2749.4 1570.0 L2755.3 1570.1 L2761.2 1570.1 L2767.1 1570.1 L2773.1 1570.2 L2779.0 1570.2 L2784.9 1570.2 L2790.8 1570.3 L2796.8 1570.3 L2802.7 1570.3 L2808.6 1570.4" fill="none" stroke="#262626" stroke-width="26.7" stroke-linejoin="round"/>
<g fill="none" stroke="#262626" stroke-opacity="0.92" stroke-width="4.45">
<path d="M1524.7 202.4V314.7"/><path d="M1522.7 202.4h4M1522.7 314.7h4" stroke-opacity=".75"/><path d="M1459.5 417.7V543.6"/><path d="M1457.5 417.7h4M1457.5 543.6h4" stroke-opacity=".75"/><path d="M1613.7 449.2V574.6"/><path d="M1611.7 449.2h4M1611.7 574.6h4" stroke-opacity=".75"/><path d="M1714.9 473.6V611.5"/><path d="M1712.9 473.6h4M1712.9 611.5h4" stroke-opacity=".75"/><path d="M1767.3 675.4V881.1"/><path d="M1765.3 675.4h4M1765.3 881.1h4" stroke-opacity=".75"/><path d="M1762.5 828.4V1075.2"/><path d="M1760.5 828.4h4M1760.5 1075.2h4" stroke-opacity=".75"/><path d="M2338.8 951.3V1257.2"/><path d="M2336.8 951.3h4M2336.8 1257.2h4" stroke-opacity=".75"/><path d="M2250.2 1099.4V1495.3"/><path d="M2248.2 1099.4h4M2248.2 1495.3h4" stroke-opacity=".75"/><path d="M1686.4 1189.3V1779.2"/><path d="M1684.4 1189.3h4M1684.4 1779.2h4" stroke-opacity=".75"/><path d="M1851.4 1290.1V2049.2"/><path d="M1849.4 1290.1h4M1849.4 2049.2h4" stroke-opacity=".75"/><path d="M1816.4 1377.9V2267.1"/><path d="M1814.4 1377.9h4M1814.4 2267.1h4" stroke-opacity=".75"/><path d="M2225.7 1436.4V2004.9"/><path d="M2223.7 1436.4h4M2223.7 2004.9h4" stroke-opacity=".75"/><path d="M2186.2 1479.6V2076.4"/><path d="M2184.2 1479.6h4M2184.2 2076.4h4" stroke-opacity=".75"/><path d="M2661.9 1587.0V2200.2"/><path d="M2659.9 1587.0h4M2659.9 2200.2h4" stroke-opacity=".75"/><path d="M2637.3 1319.2h4"/><path d="M2637.3 1319.2h4" stroke-opacity=".75"/>
</g>
<g fill="#262626" fill-opacity="0.92"><circle cx="1524.7" cy="259.2" r="7.1"/><circle cx="1459.5" cy="481.5" r="7.1"/><circle cx="1613.7" cy="513.7" r="7.1"/><circle cx="1714.9" cy="539.9" r="7.1"/><circle cx="1767.3" cy="779.8" r="7.1"/><circle cx="1762.5" cy="950.0" r="7.1"/><circle cx="2338.8" cy="1097.2" r="7.1"/><circle cx="2250.2" cy="1296.6" r="7.1"/><circle cx="1686.4" cy="1492.9" r="7.1"/><circle cx="1851.4" cy="1657.9" r="7.1"/><circle cx="1816.4" cy="1827.1" r="7.1"/><circle cx="2225.7" cy="1714.7" r="7.1"/><circle cx="2186.2" cy="1775.7" r="7.1"/><circle cx="2661.9" cy="1885.7" r="7.1"/><circle cx="2639.0" cy="2040.0" r="7.1"/></g>
<rect x="331.25" y="27.3" width="2591.35" height="2707.1" fill="none" stroke="#333333" stroke-width="8.9"/>
<path d="M315.6 235.4H331.2M315.6 574.7H331.2M315.6 914.0H331.2M315.6 1253.4H331.2M315.6 1592.7H331.2M315.6 1932.0H331.2M315.6 2271.3H331.2M445.0 2734.4V2750.0M1035.9 2734.4V2750.0M1626.8 2734.4V2750.0M2217.7 2734.4V2750.0M2808.6 2734.4V2750.0" stroke="#333333" stroke-width="4.45" fill="none"/>
<g font-size="91.67" fill="#4D4D4D"><text transform="translate(304.0 269.0) scale(1 1.045)" text-anchor="end">0</text><text transform="translate(304.0 608.3) scale(1 1.045)" text-anchor="end">-4</text><text transform="translate(304.0 947.6) scale(1 1.045)" text-anchor="end">-8</text><text transform="translate(304.0 1287.0) scale(1 1.045)" text-anchor="end">-12</text><text transform="translate(304.0 1626.3) scale(1 1.045)" text-anchor="end">-16</text><text transform="translate(304.0 1965.6) scale(1 1.045)" text-anchor="end">-20</text><text transform="translate(304.0 2304.9) scale(1 1.045)" text-anchor="end">-24</text><text transform="translate(445.0 2828.2) scale(1 1.045)" text-anchor="middle">0.00</text><text transform="translate(1035.9 2828.2) scale(1 1.045)" text-anchor="middle">0.25</text><text transform="translate(1626.8 2828.2) scale(1 1.045)" text-anchor="middle">0.50</text><text transform="translate(2217.7 2828.2) scale(1 1.045)" text-anchor="middle">0.75</text><text transform="translate(2808.6 2828.2) scale(1 1.045)" text-anchor="middle">1.00</text></g>
<g font-size="91.67" fill="#000">
<text transform="translate(1628.5 2956.5) scale(1 1.045)" text-anchor="middle">Predicted sgRNA strength</text>
<g transform="translate(91.8 0) rotate(-90)">
<text transform="translate(-2118.7 0.0) scale(1 1.045)">Predicted</text>
<text transform="translate(-1678.4 0.0) scale(1 1.045)">log</text>
<text transform="translate(-1556.5 20.0) scale(1 1.045)" font-size="64.2">2</text>
<text transform="translate(-1499.5 0.0) scale(1 1.045)">FC at 25 generations</text>
</g>
<text transform="translate(3119.2 1490.0) scale(1 1.045)">MSMEG3042 - ref</text>
<text transform="translate(2995.0 1349.1) scale(1 1.045)" font-size="104.17">Label</text>
</g>
<rect x="3002.7" y="1438.6" width="57.3" height="35.2" fill="#262626"/>
</svg>
</body></html>
